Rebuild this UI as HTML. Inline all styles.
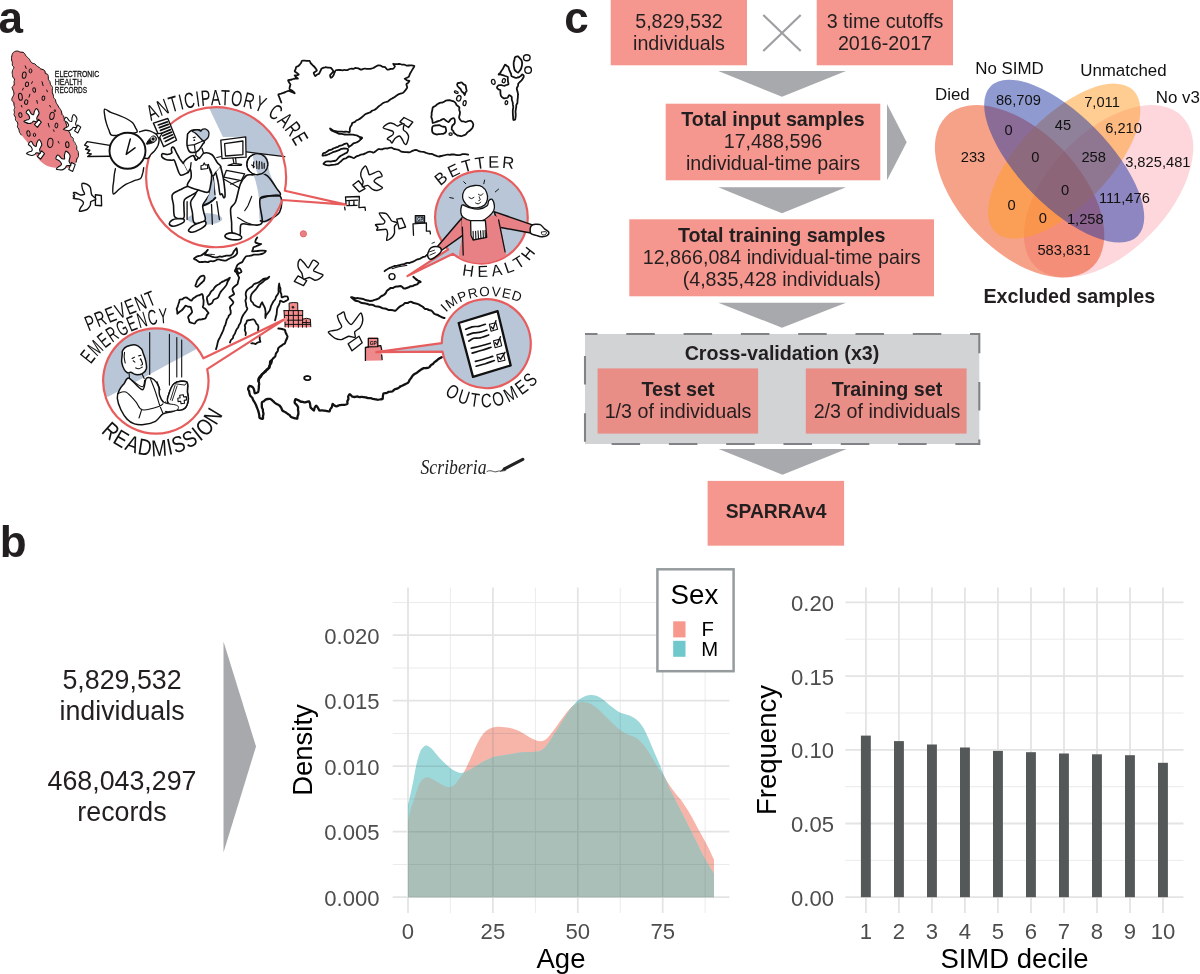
<!DOCTYPE html>
<html lang="en">
<head>
<meta charset="utf-8">
<title>SPARRAv4 overview figure</title>
<style>
html,body{margin:0;padding:0;background:#fff;}
body{width:1200px;height:974px;overflow:hidden;font-family:"Liberation Sans",sans-serif;}
svg{display:block;will-change:transform;}
text{font-family:"Liberation Sans",sans-serif;}
.lbl{font-weight:700;font-size:44px;fill:#231f20;}
.ft{font-size:19.7px;fill:#231f20;text-anchor:middle;}
.fb{font-size:19.7px;font-weight:700;fill:#231f20;text-anchor:middle;}
.vn{font-size:14.7px;fill:#111;text-anchor:middle;}
.vc{font-size:16.9px;fill:#111;}
.tick{font-size:22.1px;fill:#4d4d4d;}
.axt{font-size:27.5px;fill:#000;text-anchor:middle;}
.big{font-size:26.8px;fill:#231f20;text-anchor:middle;}
.hand{font-family:"Liberation Sans",sans-serif;fill:#111;}
</style>
</head>
<body>
<svg width="1200" height="974" viewBox="0 0 1200 974">
<rect x="0" y="0" width="1200" height="974" fill="#ffffff"/>
<!-- ============ panel c : flow chart ============ -->
<g id="flow">
<text class="lbl" x="564.3" y="33.1">c</text>
<rect x="610.7" y="0" width="136.3" height="65.3" fill="#f5978f"/>
<text class="ft" x="679" y="27.9">5,829,532</text>
<text class="ft" x="679" y="49.6">individuals</text>
<path d="M763.3 15 L800.7 51 M800.7 15 L763.3 51" stroke="#9d9fa2" stroke-width="2.2" fill="none"/>
<rect x="816.7" y="0" width="136.3" height="65.3" fill="#f5978f"/>
<text class="ft" x="885" y="27.9">3 time cutoffs</text>
<text class="ft" x="885" y="49.6">2016-2017</text>
<polygon points="718.3,71 846,71 782,96.7" fill="#a7a9ac"/>
<rect x="665.7" y="103.7" width="214.6" height="76.6" fill="#f5978f"/>
<text class="fb" x="773" y="126.3">Total input samples</text>
<text class="ft" x="773" y="147.9">17,488,596</text>
<text class="ft" x="773" y="169.6">individual-time pairs</text>
<polygon points="887,104 887,180.3 906.7,142.3" fill="#a7a9ac"/>
<polygon points="718.3,187.3 846,187.3 782,213.3" fill="#a7a9ac"/>
<rect x="629.3" y="219.3" width="304.7" height="77" fill="#f5978f"/>
<text class="fb" x="781.7" y="242.3">Total training samples</text>
<text class="ft" x="781.7" y="263.9">12,866,084 individual-time pairs</text>
<text class="ft" x="781.7" y="285.6">(4,835,428 individuals)</text>
<polygon points="718.3,302.7 846,302.7 782,327.7" fill="#a7a9ac"/>
<rect x="585" y="334" width="394.3" height="110" fill="#d2d3d5" stroke="#808285" stroke-width="2.1" stroke-dasharray="28.5 28.8" stroke-dashoffset="16"/>
<text class="fb" x="782" y="359.9">Cross-validation (x3)</text>
<rect x="597.6" y="368.4" width="160.5" height="65.2" fill="#e98d87"/>
<text class="fb" x="678" y="395.6">Test set</text>
<text class="ft" x="678" y="417.6">1/3 of individuals</text>
<rect x="805.8" y="368.4" width="160.8" height="65.2" fill="#e98d87"/>
<text class="fb" x="887" y="395.6">Training set</text>
<text class="ft" x="887" y="417.6">2/3 of individuals</text>
<polygon points="718.7,449 846.6,449 782.5,474.8" fill="#a7a9ac"/>
<rect x="707.6" y="480.9" width="136.5" height="64.8" fill="#f5978f"/>
<text class="fb" x="776" y="518.4" style="font-size:19.3px">SPARRAv4</text>
</g>
<!-- ============ panel c : venn diagram ============ -->
<g id="venn">
<ellipse cx="0" cy="0" rx="104" ry="59.4" transform="translate(1108.6 191.3) scale(1 1.018) rotate(-45)" fill="#fbafb9" fill-opacity="0.5"/>
<ellipse cx="0" cy="0" rx="104" ry="59.4" transform="translate(1019.6 191.3) scale(1 1.018) rotate(45)" fill="#ee4614" fill-opacity="0.5"/>
<ellipse cx="0" cy="0" rx="98" ry="44.6" transform="translate(1064.2 161.1) scale(1 1.018) rotate(-45)" fill="#ff9b23" fill-opacity="0.5"/>
<ellipse cx="0" cy="0" rx="104" ry="44.6" transform="translate(1064.2 161.1) scale(1 1.018) rotate(45)" fill="#1f36a4" fill-opacity="0.5"/>
<g class="vn">
<text x="1018.4" y="105">86,709</text>
<text x="1102" y="107">7,011</text>
<text x="1008.6" y="135">0</text>
<text x="1062.9" y="130.3">45</text>
<text x="1123.6" y="133.2">6,210</text>
<text x="973" y="162.2">233</text>
<text x="1035.3" y="162.2">0</text>
<text x="1093.7" y="162.2">258</text>
<text x="1157.8" y="167">3,825,481</text>
<text x="1065" y="195.2">0</text>
<text x="1124.4" y="203">111,476</text>
<text x="1011.5" y="210.2">0</text>
<text x="1042.8" y="222.8">0</text>
<text x="1085.3" y="224.2">1,258</text>
<text x="1064" y="255.2">583,831</text>
</g>
<g class="vc">
<text x="935" y="99.5">Died</text>
<text x="975.3" y="73.6">No SIMD</text>
<text x="1080.2" y="75.9">Unmatched</text>
<text x="1155.7" y="102.6">No v3</text>
</g>
<text x="1069.3" y="303" style="font-size:19.7px;font-weight:700;fill:#231f20;text-anchor:middle">Excluded samples</text>
</g>
<!-- ============ panel b : text + plots ============ -->
<g id="panelb">
<text class="lbl" x="-0.2" y="557">b</text>
<text class="big" x="122" y="689">5,829,532</text>
<text class="big" x="122" y="720">individuals</text>
<text class="big" x="122" y="790">468,043,297</text>
<text class="big" x="122" y="821">records</text>
<polygon points="223.5,641.5 223.5,852.5 256,746.5" fill="#a7a9ac"/>
<g id="dens">
<path d="M392.7 864.5H729.4M392.7 799.0H729.4M392.7 733.5H729.4M392.7 668.0H729.4M392.7 602.5H729.4M450.4 587.6V912.9M535.4 587.6V912.9M620.2 587.6V912.9M705.1 587.6V912.9" stroke="#ebebeb" stroke-width="1" fill="none"/>
<path d="M392.7 897.2H729.4M392.7 831.7H729.4M392.7 766.2H729.4M392.7 700.7H729.4M392.7 635.2H729.4M408.0 587.6V912.9M492.9 587.6V912.9M577.8 587.6V912.9M662.7 587.6V912.9" stroke="#e4e4e4" stroke-width="1.8" fill="none"/>
<clipPath id="clipF"><path d="M408.0 897.2L408.0 821.5C408.5 819.2 410.0 811.6 411.0 808.0C412.0 804.4 412.9 803.3 414.0 800.0C415.1 796.7 416.5 791.2 417.8 788.0C419.0 784.8 420.2 782.2 421.5 780.5C422.8 778.8 424.1 778.3 425.2 777.8C426.4 777.3 427.1 777.2 428.5 777.5C429.9 777.8 431.4 778.6 433.5 779.8C435.6 780.9 438.8 783.1 441.0 784.2C443.2 785.4 445.5 786.3 447.0 786.8C448.5 787.3 448.8 787.3 450.0 787.0C451.2 786.7 453.0 786.3 454.5 785.0C456.0 783.7 457.5 781.0 459.0 779.0C460.5 777.0 462.0 775.5 463.5 773.0C465.0 770.5 466.2 767.8 468.0 764.0C469.8 760.2 472.0 754.8 474.0 750.5C476.0 746.2 478.0 741.8 480.0 738.5C482.0 735.2 483.8 732.8 486.0 731.0C488.2 729.2 490.8 728.2 493.0 727.5C495.2 726.8 496.7 726.7 499.5 726.8C502.3 726.9 506.8 727.3 510.0 728.0C513.2 728.7 516.0 729.6 519.0 731.0C522.0 732.4 525.3 734.8 528.0 736.2C530.7 737.8 533.1 739.2 535.2 740.0C537.3 740.8 539.0 741.3 540.8 741.2C542.5 741.1 544.1 740.7 546.0 739.2C547.9 737.8 550.0 735.0 552.0 732.5C554.0 730.0 556.0 727.0 558.0 724.2C560.0 721.5 562.0 718.6 564.0 716.0C566.0 713.4 568.0 710.5 570.0 708.5C572.0 706.5 574.2 704.8 576.0 703.7C577.8 702.7 579.2 702.5 580.5 702.2C581.8 701.9 582.0 701.7 583.5 701.9C585.0 702.1 587.5 702.4 589.5 703.2C591.5 704.1 593.5 705.5 595.5 707.0C597.5 708.5 599.5 710.4 601.5 712.2C603.5 714.1 605.5 716.2 607.5 718.2C609.5 720.2 611.5 722.4 613.5 724.2C615.5 726.1 617.5 728.0 619.5 729.5C621.5 731.0 623.5 732.5 625.5 733.5C627.5 734.6 629.8 735.2 631.5 736.0C633.2 736.7 634.5 736.8 636.0 737.8C637.5 738.7 639.0 740.0 640.5 741.5C642.0 743.0 643.5 744.8 645.0 746.8C646.5 748.8 648.0 751.1 649.5 753.5C651.0 755.9 652.5 758.5 654.0 761.0C655.5 763.5 657.0 766.2 658.5 768.5C660.0 770.8 661.5 772.2 663.0 774.5C664.5 776.8 666.0 779.6 667.5 782.0C669.0 784.4 670.5 786.6 672.0 788.8C673.5 790.9 675.0 792.9 676.5 794.8C678.0 796.6 678.9 797.0 681.0 800.0C683.1 803.0 686.5 808.0 689.2 812.6C691.9 817.2 694.7 822.5 697.4 827.4C700.1 832.3 702.8 836.9 705.6 842.2C708.4 847.6 712.6 856.6 714.0 859.5L714.0 897.2Z"/></clipPath>
<clipPath id="clipU"><path d="M408.0 897.2L408.0 821.5C408.5 819.2 410.0 811.6 411.0 808.0C412.0 804.4 412.9 803.3 414.0 800.0C415.1 796.7 416.5 791.2 417.8 788.0C419.0 784.8 420.2 782.2 421.5 780.5C422.8 778.8 424.1 778.3 425.2 777.8C426.4 777.3 427.1 777.2 428.5 777.5C429.9 777.8 431.4 778.6 433.5 779.8C435.6 780.9 438.8 783.1 441.0 784.2C443.2 785.4 445.5 786.3 447.0 786.8C448.5 787.3 448.8 787.3 450.0 787.0C451.2 786.7 453.0 786.3 454.5 785.0C456.0 783.7 457.5 781.0 459.0 779.0C460.5 777.0 462.0 775.5 463.5 773.0C465.0 770.5 466.2 767.8 468.0 764.0C469.8 760.2 472.0 754.8 474.0 750.5C476.0 746.2 478.0 741.8 480.0 738.5C482.0 735.2 483.8 732.8 486.0 731.0C488.2 729.2 490.8 728.2 493.0 727.5C495.2 726.8 496.7 726.7 499.5 726.8C502.3 726.9 506.8 727.3 510.0 728.0C513.2 728.7 516.0 729.6 519.0 731.0C522.0 732.4 525.3 734.8 528.0 736.2C530.7 737.8 533.1 739.2 535.2 740.0C537.3 740.8 539.0 741.3 540.8 741.2C542.5 741.1 544.1 740.7 546.0 739.2C547.9 737.8 550.0 735.0 552.0 732.5C554.0 730.0 556.0 727.0 558.0 724.2C560.0 721.5 562.0 718.6 564.0 716.0C566.0 713.4 568.0 710.5 570.0 708.5C572.0 706.5 574.2 704.8 576.0 703.7C577.8 702.7 579.2 702.5 580.5 702.2C581.8 701.9 582.0 701.7 583.5 701.9C585.0 702.1 587.5 702.4 589.5 703.2C591.5 704.1 593.5 705.5 595.5 707.0C597.5 708.5 599.5 710.4 601.5 712.2C603.5 714.1 605.5 716.2 607.5 718.2C609.5 720.2 611.5 722.4 613.5 724.2C615.5 726.1 617.5 728.0 619.5 729.5C621.5 731.0 623.5 732.5 625.5 733.5C627.5 734.6 629.8 735.2 631.5 736.0C633.2 736.7 634.5 736.8 636.0 737.8C637.5 738.7 639.0 740.0 640.5 741.5C642.0 743.0 643.5 744.8 645.0 746.8C646.5 748.8 648.0 751.1 649.5 753.5C651.0 755.9 652.5 758.5 654.0 761.0C655.5 763.5 657.0 766.2 658.5 768.5C660.0 770.8 661.5 772.2 663.0 774.5C664.5 776.8 666.0 779.6 667.5 782.0C669.0 784.4 670.5 786.6 672.0 788.8C673.5 790.9 675.0 792.9 676.5 794.8C678.0 796.6 678.9 797.0 681.0 800.0C683.1 803.0 686.5 808.0 689.2 812.6C691.9 817.2 694.7 822.5 697.4 827.4C700.1 832.3 702.8 836.9 705.6 842.2C708.4 847.6 712.6 856.6 714.0 859.5L714.0 897.2Z"/><path d="M408.0 897.2L408.0 804.5C408.2 803.8 408.4 803.2 409.2 800.0C409.9 796.8 411.3 790.8 412.5 785.0C413.7 779.2 415.0 771.0 416.2 765.5C417.5 760.0 418.8 755.1 420.0 752.0C421.2 748.9 422.7 747.8 423.8 746.8C424.8 745.7 425.2 745.2 426.5 745.5C427.8 745.8 429.6 746.8 431.2 748.2C432.9 749.7 434.6 752.1 436.5 754.2C438.4 756.4 440.2 758.8 442.5 761.0C444.8 763.2 447.8 766.0 450.0 767.8C452.2 769.5 454.0 770.6 456.0 771.5C458.0 772.4 459.8 773.2 462.0 773.0C464.2 772.8 467.0 771.2 469.5 770.0C472.0 768.8 474.5 767.0 477.0 765.5C479.5 764.0 481.8 762.4 484.5 761.0C487.2 759.6 490.0 758.2 493.0 757.2C496.0 756.3 499.2 756.0 502.5 755.5C505.8 754.9 509.8 754.3 513.0 753.8C516.2 753.3 518.3 752.6 522.0 752.3C525.7 751.9 532.0 752.0 535.2 751.7C538.4 751.4 539.0 751.7 541.0 750.5C543.0 749.3 545.2 747.4 547.5 744.5C549.8 741.6 552.5 736.9 555.0 733.0C557.5 729.1 560.0 724.9 562.5 721.0C565.0 717.1 568.0 712.3 570.0 709.5C572.0 706.7 573.0 705.7 574.5 704.0C576.0 702.3 577.2 700.8 579.0 699.5C580.8 698.2 583.0 697.0 585.0 696.2C587.0 695.5 589.0 695.0 591.0 695.0C593.0 695.0 595.0 695.3 597.0 696.0C599.0 696.8 601.0 698.0 603.0 699.5C605.0 701.0 607.0 703.1 609.0 704.8C611.0 706.4 613.1 707.9 615.0 709.2C616.9 710.6 618.5 711.8 620.5 712.7C622.5 713.6 624.9 714.0 627.0 714.8C629.1 715.5 631.2 716.2 633.0 717.2C634.8 718.2 636.0 719.1 637.5 720.5C639.0 721.9 640.5 723.5 642.0 725.8C643.5 728.0 645.0 730.9 646.5 734.0C648.0 737.1 649.5 741.0 651.0 744.5C652.5 748.0 654.0 751.5 655.5 755.0C657.0 758.5 658.7 762.2 660.0 765.5C661.3 768.8 662.2 771.4 663.5 774.5C664.8 777.6 666.2 781.0 667.5 784.0C668.8 787.0 669.5 788.5 671.5 792.5C673.5 796.5 676.6 802.4 679.3 807.7C682.0 813.0 684.8 818.6 687.5 824.1C690.2 829.6 693.0 835.0 695.8 840.5C698.5 846.0 701.0 851.5 704.0 857.0C707.0 862.5 712.3 871.0 714.0 873.8L714.0 897.2Z"/></clipPath>
<path d="M408.0 897.2L408.0 821.5C408.5 819.2 410.0 811.6 411.0 808.0C412.0 804.4 412.9 803.3 414.0 800.0C415.1 796.7 416.5 791.2 417.8 788.0C419.0 784.8 420.2 782.2 421.5 780.5C422.8 778.8 424.1 778.3 425.2 777.8C426.4 777.3 427.1 777.2 428.5 777.5C429.9 777.8 431.4 778.6 433.5 779.8C435.6 780.9 438.8 783.1 441.0 784.2C443.2 785.4 445.5 786.3 447.0 786.8C448.5 787.3 448.8 787.3 450.0 787.0C451.2 786.7 453.0 786.3 454.5 785.0C456.0 783.7 457.5 781.0 459.0 779.0C460.5 777.0 462.0 775.5 463.5 773.0C465.0 770.5 466.2 767.8 468.0 764.0C469.8 760.2 472.0 754.8 474.0 750.5C476.0 746.2 478.0 741.8 480.0 738.5C482.0 735.2 483.8 732.8 486.0 731.0C488.2 729.2 490.8 728.2 493.0 727.5C495.2 726.8 496.7 726.7 499.5 726.8C502.3 726.9 506.8 727.3 510.0 728.0C513.2 728.7 516.0 729.6 519.0 731.0C522.0 732.4 525.3 734.8 528.0 736.2C530.7 737.8 533.1 739.2 535.2 740.0C537.3 740.8 539.0 741.3 540.8 741.2C542.5 741.1 544.1 740.7 546.0 739.2C547.9 737.8 550.0 735.0 552.0 732.5C554.0 730.0 556.0 727.0 558.0 724.2C560.0 721.5 562.0 718.6 564.0 716.0C566.0 713.4 568.0 710.5 570.0 708.5C572.0 706.5 574.2 704.8 576.0 703.7C577.8 702.7 579.2 702.5 580.5 702.2C581.8 701.9 582.0 701.7 583.5 701.9C585.0 702.1 587.5 702.4 589.5 703.2C591.5 704.1 593.5 705.5 595.5 707.0C597.5 708.5 599.5 710.4 601.5 712.2C603.5 714.1 605.5 716.2 607.5 718.2C609.5 720.2 611.5 722.4 613.5 724.2C615.5 726.1 617.5 728.0 619.5 729.5C621.5 731.0 623.5 732.5 625.5 733.5C627.5 734.6 629.8 735.2 631.5 736.0C633.2 736.7 634.5 736.8 636.0 737.8C637.5 738.7 639.0 740.0 640.5 741.5C642.0 743.0 643.5 744.8 645.0 746.8C646.5 748.8 648.0 751.1 649.5 753.5C651.0 755.9 652.5 758.5 654.0 761.0C655.5 763.5 657.0 766.2 658.5 768.5C660.0 770.8 661.5 772.2 663.0 774.5C664.5 776.8 666.0 779.6 667.5 782.0C669.0 784.4 670.5 786.6 672.0 788.8C673.5 790.9 675.0 792.9 676.5 794.8C678.0 796.6 678.9 797.0 681.0 800.0C683.1 803.0 686.5 808.0 689.2 812.6C691.9 817.2 694.7 822.5 697.4 827.4C700.1 832.3 702.8 836.9 705.6 842.2C708.4 847.6 712.6 856.6 714.0 859.5L714.0 897.2Z" fill="#f7b5aa"/>
<path d="M408.0 897.2L408.0 804.5C408.2 803.8 408.4 803.2 409.2 800.0C409.9 796.8 411.3 790.8 412.5 785.0C413.7 779.2 415.0 771.0 416.2 765.5C417.5 760.0 418.8 755.1 420.0 752.0C421.2 748.9 422.7 747.8 423.8 746.8C424.8 745.7 425.2 745.2 426.5 745.5C427.8 745.8 429.6 746.8 431.2 748.2C432.9 749.7 434.6 752.1 436.5 754.2C438.4 756.4 440.2 758.8 442.5 761.0C444.8 763.2 447.8 766.0 450.0 767.8C452.2 769.5 454.0 770.6 456.0 771.5C458.0 772.4 459.8 773.2 462.0 773.0C464.2 772.8 467.0 771.2 469.5 770.0C472.0 768.8 474.5 767.0 477.0 765.5C479.5 764.0 481.8 762.4 484.5 761.0C487.2 759.6 490.0 758.2 493.0 757.2C496.0 756.3 499.2 756.0 502.5 755.5C505.8 754.9 509.8 754.3 513.0 753.8C516.2 753.3 518.3 752.6 522.0 752.3C525.7 751.9 532.0 752.0 535.2 751.7C538.4 751.4 539.0 751.7 541.0 750.5C543.0 749.3 545.2 747.4 547.5 744.5C549.8 741.6 552.5 736.9 555.0 733.0C557.5 729.1 560.0 724.9 562.5 721.0C565.0 717.1 568.0 712.3 570.0 709.5C572.0 706.7 573.0 705.7 574.5 704.0C576.0 702.3 577.2 700.8 579.0 699.5C580.8 698.2 583.0 697.0 585.0 696.2C587.0 695.5 589.0 695.0 591.0 695.0C593.0 695.0 595.0 695.3 597.0 696.0C599.0 696.8 601.0 698.0 603.0 699.5C605.0 701.0 607.0 703.1 609.0 704.8C611.0 706.4 613.1 707.9 615.0 709.2C616.9 710.6 618.5 711.8 620.5 712.7C622.5 713.6 624.9 714.0 627.0 714.8C629.1 715.5 631.2 716.2 633.0 717.2C634.8 718.2 636.0 719.1 637.5 720.5C639.0 721.9 640.5 723.5 642.0 725.8C643.5 728.0 645.0 730.9 646.5 734.0C648.0 737.1 649.5 741.0 651.0 744.5C652.5 748.0 654.0 751.5 655.5 755.0C657.0 758.5 658.7 762.2 660.0 765.5C661.3 768.8 662.2 771.4 663.5 774.5C664.8 777.6 666.2 781.0 667.5 784.0C668.8 787.0 669.5 788.5 671.5 792.5C673.5 796.5 676.6 802.4 679.3 807.7C682.0 813.0 684.8 818.6 687.5 824.1C690.2 829.6 693.0 835.0 695.8 840.5C698.5 846.0 701.0 851.5 704.0 857.0C707.0 862.5 712.3 871.0 714.0 873.8L714.0 897.2Z" fill="#9dd8db"/>
<path d="M408.0 897.2L408.0 804.5C408.2 803.8 408.4 803.2 409.2 800.0C409.9 796.8 411.3 790.8 412.5 785.0C413.7 779.2 415.0 771.0 416.2 765.5C417.5 760.0 418.8 755.1 420.0 752.0C421.2 748.9 422.7 747.8 423.8 746.8C424.8 745.7 425.2 745.2 426.5 745.5C427.8 745.8 429.6 746.8 431.2 748.2C432.9 749.7 434.6 752.1 436.5 754.2C438.4 756.4 440.2 758.8 442.5 761.0C444.8 763.2 447.8 766.0 450.0 767.8C452.2 769.5 454.0 770.6 456.0 771.5C458.0 772.4 459.8 773.2 462.0 773.0C464.2 772.8 467.0 771.2 469.5 770.0C472.0 768.8 474.5 767.0 477.0 765.5C479.5 764.0 481.8 762.4 484.5 761.0C487.2 759.6 490.0 758.2 493.0 757.2C496.0 756.3 499.2 756.0 502.5 755.5C505.8 754.9 509.8 754.3 513.0 753.8C516.2 753.3 518.3 752.6 522.0 752.3C525.7 751.9 532.0 752.0 535.2 751.7C538.4 751.4 539.0 751.7 541.0 750.5C543.0 749.3 545.2 747.4 547.5 744.5C549.8 741.6 552.5 736.9 555.0 733.0C557.5 729.1 560.0 724.9 562.5 721.0C565.0 717.1 568.0 712.3 570.0 709.5C572.0 706.7 573.0 705.7 574.5 704.0C576.0 702.3 577.2 700.8 579.0 699.5C580.8 698.2 583.0 697.0 585.0 696.2C587.0 695.5 589.0 695.0 591.0 695.0C593.0 695.0 595.0 695.3 597.0 696.0C599.0 696.8 601.0 698.0 603.0 699.5C605.0 701.0 607.0 703.1 609.0 704.8C611.0 706.4 613.1 707.9 615.0 709.2C616.9 710.6 618.5 711.8 620.5 712.7C622.5 713.6 624.9 714.0 627.0 714.8C629.1 715.5 631.2 716.2 633.0 717.2C634.8 718.2 636.0 719.1 637.5 720.5C639.0 721.9 640.5 723.5 642.0 725.8C643.5 728.0 645.0 730.9 646.5 734.0C648.0 737.1 649.5 741.0 651.0 744.5C652.5 748.0 654.0 751.5 655.5 755.0C657.0 758.5 658.7 762.2 660.0 765.5C661.3 768.8 662.2 771.4 663.5 774.5C664.8 777.6 666.2 781.0 667.5 784.0C668.8 787.0 669.5 788.5 671.5 792.5C673.5 796.5 676.6 802.4 679.3 807.7C682.0 813.0 684.8 818.6 687.5 824.1C690.2 829.6 693.0 835.0 695.8 840.5C698.5 846.0 701.0 851.5 704.0 857.0C707.0 862.5 712.3 871.0 714.0 873.8L714.0 897.2Z" fill="#a9bfb7" clip-path="url(#clipF)"/>
<g clip-path="url(#clipU)" opacity="0.22"><path d="M392.7 864.5H729.4M392.7 799.0H729.4M392.7 733.5H729.4M392.7 668.0H729.4M392.7 602.5H729.4M450.4 587.6V912.9M535.4 587.6V912.9M620.2 587.6V912.9M705.1 587.6V912.9" stroke="#6b7a78" stroke-width="0.8" fill="none"/><path d="M392.7 897.2H729.4M392.7 831.7H729.4M392.7 766.2H729.4M392.7 700.7H729.4M392.7 635.2H729.4M408.0 587.6V912.9M492.9 587.6V912.9M577.8 587.6V912.9M662.7 587.6V912.9" stroke="#6b7a78" stroke-width="1.5" fill="none"/></g>
<text class="tick" text-anchor="end" x="379.5" y="905.6">0.000</text>
<text class="tick" text-anchor="end" x="379.5" y="840.1">0.005</text>
<text class="tick" text-anchor="end" x="379.5" y="774.6">0.010</text>
<text class="tick" text-anchor="end" x="379.5" y="709.1">0.015</text>
<text class="tick" text-anchor="end" x="379.5" y="643.6">0.020</text>
<text class="tick" text-anchor="middle" x="408.0" y="938.6">0</text>
<text class="tick" text-anchor="middle" x="492.9" y="938.6">25</text>
<text class="tick" text-anchor="middle" x="577.8" y="938.6">50</text>
<text class="tick" text-anchor="middle" x="662.7" y="938.6">75</text>
<text class="axt" x="561" y="968.4">Age</text>
<text class="axt" transform="translate(311.5 750) rotate(-90)">Density</text>
<rect x="657.4" y="569.3" width="76.2" height="101.9" fill="#fff" stroke="#969c9e" stroke-width="2.5"/>
<text x="670.6" y="603.8" style="font-size:27.7px;fill:#000">Sex</text>
<rect x="673.2" y="621.3" width="12.3" height="16.1" fill="#f6988c"/>
<rect x="673.2" y="640.8" width="12.3" height="16" fill="#6fc8cc"/>
<text x="701.4" y="636.4" style="font-size:20.3px;fill:#000">F</text>
<text x="701.3" y="655.6" style="font-size:20.3px;fill:#000">M</text>
</g>
<g id="bars">
<path d="M845.4 860.4H1183.5M845.4 786.7H1183.5M845.4 713.0H1183.5M845.4 639.2H1183.5" stroke="#ebebeb" stroke-width="1" fill="none"/>
<path d="M845.4 897.2H1183.5M845.4 823.5H1183.5M845.4 749.8H1183.5M845.4 676.1H1183.5M845.4 602.4H1183.5M865.9 587.6V912.9M898.9 587.6V912.9M931.9 587.6V912.9M964.9 587.6V912.9M997.9 587.6V912.9M1031.0 587.6V912.9M1064.0 587.6V912.9M1097.0 587.6V912.9M1130.0 587.6V912.9M1163.0 587.6V912.9" stroke="#e4e4e4" stroke-width="1.8" fill="none"/>
<rect x="860.9" y="735.6" width="9.9" height="161.6" fill="#555858"/>
<rect x="894.0" y="741.1" width="9.9" height="156.1" fill="#555858"/>
<rect x="927.0" y="744.5" width="9.9" height="152.7" fill="#555858"/>
<rect x="960.0" y="747.5" width="9.9" height="149.7" fill="#555858"/>
<rect x="993.0" y="750.9" width="9.9" height="146.3" fill="#555858"/>
<rect x="1026.0" y="752.2" width="9.9" height="145.0" fill="#555858"/>
<rect x="1059.0" y="753.5" width="9.9" height="143.7" fill="#555858"/>
<rect x="1092.0" y="754.3" width="9.9" height="142.9" fill="#555858"/>
<rect x="1125.0" y="755.2" width="9.9" height="142.0" fill="#555858"/>
<rect x="1158.0" y="762.8" width="9.9" height="134.4" fill="#555858"/>
<text class="tick" text-anchor="end" x="834" y="905.6">0.00</text>
<text class="tick" text-anchor="end" x="834" y="831.9">0.05</text>
<text class="tick" text-anchor="end" x="834" y="758.2">0.10</text>
<text class="tick" text-anchor="end" x="834" y="684.5">0.15</text>
<text class="tick" text-anchor="end" x="834" y="610.8">0.20</text>
<text class="tick" text-anchor="middle" x="865.9" y="938.6">1</text>
<text class="tick" text-anchor="middle" x="898.9" y="938.6">2</text>
<text class="tick" text-anchor="middle" x="931.9" y="938.6">3</text>
<text class="tick" text-anchor="middle" x="964.9" y="938.6">4</text>
<text class="tick" text-anchor="middle" x="997.9" y="938.6">5</text>
<text class="tick" text-anchor="middle" x="1031.0" y="938.6">6</text>
<text class="tick" text-anchor="middle" x="1064.0" y="938.6">7</text>
<text class="tick" text-anchor="middle" x="1097.0" y="938.6">8</text>
<text class="tick" text-anchor="middle" x="1130.0" y="938.6">9</text>
<text class="tick" text-anchor="middle" x="1163.0" y="938.6">10</text>
<text class="axt" x="1014.5" y="968.4">SIMD decile</text>
<text class="axt" transform="translate(776.3 750) rotate(-90)">Frequency</text>
</g>
</g>
<!-- ============ panel a : illustration ============ -->
<g id="illus">
<text class="lbl" x="-1.6" y="33.1">a</text>
<g id="blob">
<path d="M15.8 51.5C17.6 51.1 21.1 51.3 23 52.2C24.9 53.2 26 55.7 27.3 57.3C28.6 58.8 29.4 60.1 30.9 61.6C32.5 63 34.6 64.6 36.7 65.9C38.7 67.2 41.3 68 43.1 69.5C44.9 70.9 46.4 72.5 47.4 74.5C48.5 76.5 48.8 79.1 49.6 81.7C50.4 84.3 51.8 87.7 52.5 90.3C53.2 93 53.1 95.1 53.9 97.5C54.8 99.9 56.2 102.3 57.5 104.7C58.8 107.1 60.5 109.3 61.8 111.9C63.1 114.5 64.2 117.2 65.4 120.5C66.6 123.9 67.7 128.7 69 132C70.3 135.4 72 137.8 73.3 140.6C74.6 143.5 76.1 146.6 76.9 149.3C77.8 151.9 78.5 154.3 78.4 156.5C78.2 158.6 77.3 160.5 76.2 162.2C75.1 163.9 73.8 165.5 71.9 166.5C70 167.5 67.1 168 64.7 168.3C62.3 168.5 60.1 168.3 57.5 168C54.9 167.7 51.5 167.5 48.9 166.5C46.2 165.6 43.7 163.9 41.7 162.2C39.7 160.5 38.5 159.1 36.7 156.5C34.9 153.8 32.7 149 30.9 146.4C29.1 143.8 27.4 142.6 25.9 140.6C24.3 138.7 22.8 136.8 21.6 134.9C20.4 133 19.4 131.3 18.7 129.1C18 127 18 124.4 17.3 122C16.5 119.6 14.7 117.2 14.4 114.8C14 112.4 15.5 110 15.1 107.6C14.7 105.2 12.5 102.8 12.2 100.4C12 98 13.7 95.4 13.7 93.2C13.7 91 12.1 89.4 12.2 87.4C12.3 85.5 14.3 83.9 14.4 81.7C14.5 79.5 12.8 76.9 12.7 74.5C12.5 72.1 13.9 69.7 13.7 67.3C13.5 64.9 11.7 62.3 11.5 60.1C11.3 58 11.5 55.8 12.2 54.4C12.9 52.9 14 51.9 15.8 51.5Z" fill="#e88186"/>
<path d="M21.4 135C21.2 134.6 19.9 133.2 19.5 132.3C19.1 131.5 19.1 129.9 18.8 129.1C18.5 128.3 17.5 127.6 17.4 126.9C17.2 126.2 17.8 125 17.8 124.3C17.8 123.6 17.5 122.6 17.2 122C16.8 121.4 15.7 120.6 15.5 119.9C15.2 119.2 15.6 117.9 15.4 117.2C15.1 116.4 14.1 115.4 14 114.7C13.9 114 14.5 113 14.5 112.4C14.5 111.7 14 110.6 14 109.9C14 109.2 14.8 108.4 14.8 107.7C14.8 107 14.1 106 14 105.2C13.9 104.5 14.1 103.2 13.8 102.5C13.5 101.8 12.2 101 11.9 100.3C11.7 99.7 11.9 98.6 12.2 97.9C12.4 97.2 13.2 96.3 13.4 95.6C13.7 95 14.1 93.9 14 93.1C14 92.3 13.4 91.1 13.1 90.3C12.8 89.5 12 88.2 12.1 87.4C12.3 86.7 13.9 85.7 14.2 84.9C14.5 84.1 14 82.6 14 81.8C14.1 81 14.7 79.8 14.5 79.1C14.3 78.5 13.1 77.7 12.8 77C12.5 76.3 12.5 75.2 12.4 74.5C12.3 73.8 12.1 72.7 12.2 72C12.3 71.3 12.7 70.3 12.9 69.7C13.2 69 14 67.9 13.9 67.2C13.8 66.6 12.5 65.8 12.3 65.1C12.1 64.4 12.5 63.2 12.4 62.5C12.3 61.8 11.7 60.9 11.6 60.1C11.5 59.4 11.5 58 11.6 57.2C11.7 56.4 12 55.1 12.2 54.4C12.5 53.7 13 52.7 13.5 52.3C14 51.8 15.2 51.3 15.9 51.2C16.5 51 17.6 51 18.3 51.2C18.9 51.3 19.9 52.2 20.6 52.3C21.3 52.5 22.5 52 23 52.2C23.6 52.4 24.3 53.2 24.7 53.7C25.1 54.2 25.4 55.2 25.8 55.7C26.1 56.2 26.8 56.7 27.3 57.2C27.9 57.7 28.9 58.5 29.4 59.2C29.9 59.8 30.3 61.2 30.8 61.8C31.2 62.4 32 63 32.6 63.3C33.2 63.6 34.5 63.7 35.1 64C35.6 64.4 36.1 65.5 36.6 65.9C37.2 66.4 38.2 66.7 38.8 67.1C39.4 67.6 40 68.6 40.6 68.9C41.2 69.3 42.4 69.3 43 69.6C43.6 69.9 44.6 70.3 44.9 70.9C45.2 71.4 44.9 72.9 45.3 73.5C45.7 74 47.3 73.9 47.7 74.4C48.2 74.9 48.2 76.1 48.3 76.9C48.4 77.6 48.2 78.8 48.4 79.4C48.6 80.1 49.6 80.9 49.9 81.6C50.2 82.3 50.2 83.8 50.6 84.6C50.9 85.4 52.1 86.3 52.4 87.2C52.6 88 52.3 89.5 52.3 90.3C52.4 91.2 52.3 92.1 52.4 92.8C52.6 93.5 53.1 94.5 53.3 95.1C53.5 95.8 53.3 97 53.6 97.6C54 98.3 55.1 99.1 55.4 99.7C55.8 100.4 55.7 101.8 56 102.5C56.3 103.2 57 104.1 57.4 104.7C57.9 105.4 58.4 106.5 58.8 107.2C59.2 107.9 60.1 108.8 60.5 109.4C60.9 110.1 61.4 111.3 61.6 112C61.8 112.7 61.6 113.8 61.9 114.4C62.2 115 63.3 115.6 63.7 116.2C64 116.8 63.9 117.9 64.2 118.5C64.5 119.1 65.5 119.8 65.8 120.4C66 121 65.6 122.3 65.8 122.9C65.9 123.6 66.5 124.5 66.6 125.2C66.7 125.9 66.5 127 66.6 127.7C66.8 128.4 67.3 129.3 67.7 129.9C68 130.5 68.8 131.3 69.2 131.9C69.5 132.5 70.1 133.4 70.3 134.1C70.5 134.7 70.5 135.9 70.9 136.5C71.3 137.1 72.7 137.5 73.1 138.1C73.5 138.7 73.1 140 73.4 140.6C73.6 141.3 74.5 142 74.8 142.5C75.2 143.1 75.5 144.1 75.8 144.7C76.1 145.3 76.7 146.1 76.8 146.8C77 147.4 76.5 148.6 76.7 149.3C76.9 150 77.9 150.9 78.1 151.5C78.4 152.2 78.3 153.3 78.4 154C78.4 154.7 78.7 155.8 78.4 156.5C78.2 157.2 76.9 158.3 76.6 159.1C76.3 159.9 76.3 161.8 76.2 162.2" fill="none" stroke="#111111" stroke-width="1" stroke-linejoin="round" stroke-linecap="round"/>
<ellipse cx="24.2" cy="75.2" rx="1.9" ry="3.2" fill="none" transform="rotate(10 24.2 75.2)" stroke="#111111" stroke-width="1.0"/>
<ellipse cx="30.5" cy="70.9" rx="1.4" ry="2" fill="none" stroke="#111111" stroke-width="1.0"/>
<ellipse cx="27" cy="84.3" rx="1.6" ry="2.3" fill="none" transform="rotate(10 27 84.3)" stroke="#111111" stroke-width="1.0"/>
<ellipse cx="34.2" cy="90" rx="1.4" ry="2.2" fill="none" transform="rotate(-10 34.2 90)" stroke="#111111" stroke-width="1.0"/>
<ellipse cx="20.4" cy="96.8" rx="1.9" ry="3.5" fill="none" transform="rotate(-8 20.4 96.8)" stroke="#111111" stroke-width="1.0"/>
<ellipse cx="26.2" cy="102.1" rx="1.6" ry="2.3" fill="none" transform="rotate(15 26.2 102.1)" stroke="#111111" stroke-width="1.0"/>
<ellipse cx="43.4" cy="98.2" rx="1.4" ry="2.2" fill="none" transform="rotate(10 43.4 98.2)" stroke="#111111" stroke-width="1.0"/>
<ellipse cx="20.4" cy="115.1" rx="1.6" ry="2.3" fill="none" transform="rotate(-10 20.4 115.1)" stroke="#111111" stroke-width="1.0"/>
<ellipse cx="52" cy="115.9" rx="2.2" ry="3.7" fill="none" transform="rotate(10 52 115.9)" stroke="#111111" stroke-width="1.0"/>
<ellipse cx="56.4" cy="125.5" rx="1.4" ry="2.4" fill="none" transform="rotate(10 56.4 125.5)" stroke="#111111" stroke-width="1.0"/>
<ellipse cx="28.5" cy="133.5" rx="1.6" ry="2.7" fill="none" transform="rotate(-10 28.5 133.5)" stroke="#111111" stroke-width="1.0"/>
<ellipse cx="34.5" cy="134.9" rx="1.2" ry="1.6" fill="none" stroke="#111111" stroke-width="1.0"/>
<ellipse cx="50.3" cy="142.8" rx="2.7" ry="4.6" fill="none" transform="rotate(5 50.3 142.8)" stroke="#111111" stroke-width="1.0"/>
<ellipse cx="67.3" cy="144.7" rx="1.7" ry="2.9" fill="none" transform="rotate(-5 67.3 144.7)" stroke="#111111" stroke-width="1.0"/>
<ellipse cx="54.9" cy="110.7" rx="0.7" ry="1" fill="none" stroke="#111111" stroke-width="1.0"/>
<path d="M25.2 65.9L26.2 68.5M42 81.7L43.1 85.7M46.7 90L47.4 91.8M23.3 88.2L22.6 90M29.9 94.3L29 97.2M36.8 100.4L37.4 103.3M21.3 105.4L21.9 107M49.7 105.4L50.6 107M48.2 123.4L49.2 127M53.5 129.9L54.1 131.4M58.2 141.4L59 143.2M32.4 81.7L31.6 83.4" fill="none" stroke="#111111" stroke-width="1" stroke-linejoin="round" stroke-linecap="round"/>
</g>
<g id="coast">
<path d="M281.3 102.5C281.2 102.2 280.5 100.2 280.2 99.6C280 98.9 279.3 97.2 279.1 96.7C278.8 96.1 278 94.7 278.3 94.4C278.5 94 280.5 93.9 281.2 93.7C281.8 93.5 283.4 92.9 284 92.7C284.6 92.5 285.8 91.7 286.4 91.5C286.9 91.3 288.3 90.8 288.9 90.9C289.5 90.9 291.2 91.8 291.8 92C292.5 92.3 294.7 93.4 294.7 93.3C294.8 93.1 293 91.4 292.5 91C291.9 90.5 289.9 89.7 289.6 89.3C289.3 88.8 289.7 87.3 289.8 86.8C289.9 86.2 290.5 84.9 290.4 84.4C290.4 83.9 289.3 82.9 289.1 82.4C288.8 82 287.9 80.5 288.1 80.2C288.2 80 289.7 80 290.1 79.9C290.6 79.8 291.6 79.5 292.2 79.3C292.7 79.2 294.3 78.6 295 78.5C295.6 78.4 297.8 78.8 297.9 78.6C298 78.5 296.6 77.4 296.2 77.1C295.8 76.7 294.6 75.5 294.6 75.3C294.7 75.2 296.3 75.4 296.8 75.3C297.2 75.2 298.8 74.7 298.8 74.4C298.8 74.2 297.2 73.2 296.7 72.8C296.2 72.5 294.8 71.6 294.7 71.2C294.6 70.8 295.5 69.7 295.6 69.2C295.8 68.7 295.9 67.3 296.2 67C296.5 66.6 297.8 66.4 298.2 66.2C298.6 65.9 299.3 65.1 299.7 64.7C300 64.3 300.9 63.2 301.1 62.8C301.4 62.3 301.6 60.9 302 60.7C302.4 60.4 304 60.6 304.5 60.6C305.1 60.6 306.4 60.7 307 60.8C307.5 60.8 309.2 60.7 309.6 60.9C310 61.2 310.3 62.5 310.5 62.9C310.8 63.3 311.6 64.1 312 64.5C312.4 65 314.1 66.5 314.5 67C314.9 67.4 315.5 68.2 315.8 68.6C316.1 69 317 70.1 316.9 70.5C316.8 70.8 315.6 71.5 315.3 71.7C314.9 72 313.7 72.3 313.7 72.8C313.7 73.2 314.7 75.8 315.1 76C315.4 76.2 316.6 74.9 317 74.6C317.5 74.3 318.8 74 319.1 73.6C319.5 73.2 320.1 71.7 320.4 71.1C320.7 70.6 321.1 69 321.7 68.6C322.2 68.1 324.3 67.4 325 67.3C325.7 67.1 327.2 67.6 327.9 67.6C328.5 67.7 330.4 67.6 330.9 67.8C331.4 68 331.9 69 332.2 69.4C332.5 69.8 333.3 70.8 333.3 71.2C333.2 71.7 332.1 72.9 331.7 73.3C331.3 73.8 330.2 74.8 330.1 75.3C330 75.8 330.5 77.9 330.9 77.9C331.2 77.9 333 76 333.4 75.4C333.8 74.8 334.2 73.4 334.4 72.8C334.7 72.3 335.3 70.7 335.7 70.4C336.1 70.1 337.4 70 337.9 70C338.4 69.9 339.6 70 340.1 70C340.6 70 341.8 70.3 342.3 70.3C342.7 70.3 343.9 69.9 344.4 69.9C344.9 69.9 346.2 70.2 346.7 70.2C347.2 70.1 348.3 69.6 348.8 69.4C349.3 69.3 350.4 68.6 350.9 68.6C351.4 68.5 352.8 69 353.3 68.9C353.8 68.8 354.8 68 355.4 67.9C356 67.9 357.7 68.2 358.4 68.4C359 68.6 360.5 69.6 361.2 69.6C361.8 69.6 363.3 68.8 364 68.7C364.6 68.6 366.3 68.7 366.9 68.8C367.5 68.8 368.7 69 369.2 68.9C369.7 68.9 370.9 68.7 371.3 68.6C371.8 68.5 373 68.2 373.5 68C374 67.8 375.3 66.8 375.8 66.5C376.4 66.2 377.9 65.5 378.4 65.4C379 65.3 380.2 65.5 380.7 65.7C381.2 65.8 382.2 66.7 382.7 66.8C383.2 67 384.4 66.8 385 67.1C385.5 67.4 386.9 69.5 387.5 69.7C388.1 69.9 389.7 69.1 390.3 69C390.9 68.9 392.6 69 393.1 68.7C393.6 68.4 394.9 66.7 394.9 66.2C394.9 65.7 393.1 64.2 393.2 64C393.2 63.8 394.9 64.2 395.4 64.2C395.9 64.2 397.1 64.1 397.6 64.1C398.1 64.1 399.3 63.9 399.7 63.9C400.2 64 401.4 64.5 401.9 64.6C402.4 64.7 403.7 64.6 404.2 64.6C404.7 64.7 405.8 65.4 406.3 65.5C406.9 65.6 408.4 65.5 409 65.5C409.6 65.5 411 65.3 411.6 65.3C412.2 65.4 414.2 65.7 414.4 66C414.5 66.4 413.3 68.1 412.9 68.7C412.6 69.3 411.7 70.7 411.4 71.2C411 71.8 410.1 73.4 409.9 74C409.6 74.6 409.1 76.4 408.7 76.8C408.4 77.2 407.2 77.6 406.8 77.8C406.3 78 404.6 78.5 404.6 78.8C404.6 79 406.4 80 406.9 80.3C407.5 80.5 409.4 80.7 409.5 80.9C409.6 81.2 408.4 82.4 408.1 82.8C407.7 83.2 406.5 83.8 406.4 84.3C406.3 84.9 407.4 87 407.2 87.7C407.1 88.4 405.8 89.7 405.3 90.3C404.9 90.8 403.6 92.3 403.1 92.7C402.6 93 401.3 93.4 400.8 93.5C400.3 93.7 399 94.2 398.5 94.4C398 94.6 396.9 95.4 396.4 95.7C395.9 96 394.8 96.9 394.3 97.2C393.8 97.5 392.5 98.2 392 98.5C391.5 98.7 390.3 99.5 389.9 99.8C389.4 100.2 388.4 101.2 387.9 101.4C387.4 101.7 386 101.8 385.5 102C384.9 102.2 383.7 102.8 383.2 103.1C382.7 103.4 381.5 104.3 381 104.7C380.5 105 379.3 105.9 378.8 106.3C378.3 106.7 377.2 107.8 376.8 108.2C376.3 108.6 375.3 109.5 374.7 109.8C374.2 110.1 372.7 110.4 372.2 110.7C371.7 110.9 370.7 112.1 370.2 112.3C369.7 112.6 368.4 112.9 367.9 113.1C367.4 113.3 366.1 113.8 365.6 114C365.1 114.3 364.1 115.2 363.7 115.6C363.2 116 361.8 117.3 361.2 117.7C360.7 118.1 359.2 119.2 358.6 119.5C358.1 119.8 356.9 120.3 356.4 120.6C355.9 120.9 354.9 121.9 354.5 122.2C354 122.4 352.6 122.7 352.3 123C352 123.3 351.8 124.7 351.6 125.1C351.4 125.6 350.5 126.5 350.3 127C350.1 127.5 349.8 128.9 349.8 129.5C349.7 130 350 131.9 349.7 132.1C349.3 132.4 347.4 131.7 346.8 131.7C346.2 131.6 344.6 131.8 343.9 131.8C343.3 131.8 341.8 131.6 341.2 131.6C340.6 131.5 339 131.6 338.4 131.6C337.8 131.5 336.3 131.3 335.7 131.1C335.1 131 333.3 130.6 332.7 130.3C332.1 130 330.2 128.5 330.1 128.5C329.9 128.5 331 130 331.3 130.3C331.7 130.6 332.7 131 333.2 131.2C333.7 131.5 335.5 132.1 336.1 132.4C336.7 132.7 338.3 133.6 339 133.8C339.6 134 341.1 133.8 341.7 133.8C342.3 133.9 343.8 134.5 344.4 134.5C345 134.6 346.6 134.6 347.2 134.6C347.8 134.6 349.4 134.4 350 134.4C350.6 134.5 352.1 134.7 352.7 134.7C353.3 134.8 354.9 135.1 355.4 135.2C356 135.3 357.2 135.6 357.7 135.8C358.2 136 359.3 136.8 359.8 137C360.2 137.2 362.1 137.4 362.1 137.8C362 138.2 360.1 140.1 359.5 140.6C359 141.1 357.5 142 356.8 142.3C356.2 142.6 354.3 143 353.7 143.3C353.1 143.7 351.9 144.9 351.4 145.2C350.9 145.6 349.1 146.6 348.8 146.8" fill="none" stroke="#111111" stroke-width="1.8" stroke-linejoin="round" stroke-linecap="round"/>
<path d="M360 137.7C360.3 137.5 362.2 137.9 362.3 138.2C362.4 138.6 361.1 140 360.7 139.9C360.3 139.8 359.7 138 360 137.7Z" fill="#111111" stroke="#111111" stroke-width="1" stroke-linejoin="round" stroke-linecap="round"/>
<path d="M348.8 146.8C348.6 146.4 347.7 143.8 347.2 143.5C346.7 143.1 345.2 143.7 344.6 143.9C344.1 144.1 342.8 145 342.3 145.2C341.8 145.3 340.4 145.4 339.9 145.6C339.4 145.7 338.4 146.5 337.9 146.8C337.4 147 336.2 147.4 335.7 147.6C335.2 147.8 334 148.2 333.5 148.4C333 148.6 332 149.5 331.5 149.7C331 149.9 329.6 149.9 329.1 150.1C328.7 150.3 327.8 151.1 327.4 151.4C327 151.7 326 152.5 325.5 152.7C325.1 152.9 323.6 153 323.3 153.3C322.9 153.6 322.4 155.4 322.5 155.7C322.7 155.9 324.1 155.4 324.6 155.4C325.1 155.3 326.2 155.2 326.7 155.1C327.3 154.9 328.9 154.1 329.6 153.8C330.2 153.5 331.8 152.7 332.4 152.5C333 152.2 334.1 151.9 334.6 151.7C335.1 151.5 336.3 151.1 336.8 150.9C337.3 150.8 338.5 150.4 339 150.2C339.5 149.9 340.8 149 341.3 148.9C341.9 148.7 343.4 148.5 343.9 148.4C344.4 148.4 345.6 148.5 346 148.6C346.5 148.7 348 148.8 348.1 149.3C348.2 149.7 347.5 151.9 347.2 152.4C346.8 152.9 345.3 153.5 344.7 153.7C344.2 154 342.7 154.7 342.3 155C341.8 155.2 340.9 155.7 340.5 156C340.1 156.3 339.2 157 338.9 157.3C338.5 157.7 337.7 158.8 337.4 159.1C337 159.5 336.2 160.5 335.7 160.7C335.2 160.9 333.8 161 333.2 161.1C332.7 161.2 331.3 161.5 330.8 161.5C330.2 161.6 328.9 161.4 328.3 161.4C327.8 161.4 326.4 161.3 325.9 161.6C325.3 161.9 323.3 163.6 323.4 164C323.5 164.4 326 165 326.7 165.2C327.4 165.3 328.9 165.5 329.6 165.4C330.2 165.4 331.9 165 332.4 164.9C333 164.8 334.2 164.7 334.7 164.7C335.2 164.6 336.4 164.3 336.9 164.2C337.4 164 338.5 163.5 338.9 163.1C339.4 162.8 340.6 161.6 341.1 161.2C341.6 160.8 342.6 159.6 343.2 159.2C343.7 158.9 345.5 158.5 346.1 158.2C346.7 157.9 348.3 156.6 348.9 156.5C349.5 156.4 350.9 156.9 351.4 157.1C352 157.3 353.2 158.3 353.8 158.2C354.3 158.2 355.5 156.9 356 156.7C356.6 156.4 358.1 155.9 358.7 155.7C359.2 155.5 360.2 154.7 360.7 154.6C361.2 154.4 362.6 154.4 363.1 154.3C363.6 154.2 364.7 153.7 365.3 153.4C365.9 153.2 367.9 152 368.5 151.9C369.2 151.7 370.5 151.7 371.1 151.8C371.6 151.8 373 152.7 373.5 152.6C374.1 152.5 375.5 151.4 376 151C376.6 150.6 377.9 149.3 378.4 149.1C378.9 148.9 380.2 149.3 380.6 149.3C381.1 149.3 382.4 149.3 382.8 149.1C383.3 149 384.5 148.4 385 148.3C385.5 148.2 386.7 148.6 387.2 148.6C387.7 148.5 388.9 147.9 389.3 147.8C389.8 147.7 391.1 147.5 391.6 147.6C392.1 147.7 393.3 148.7 393.9 148.9C394.4 149.1 395.8 149.2 396.4 149.4C397 149.5 398.5 149.9 399.1 150.2C399.6 150.4 400.8 151.5 401.4 151.7C402 151.9 403.5 151.9 404.1 152C404.8 152 406.3 152 406.9 152.1C407.5 152.1 409 152.5 409.6 152.4C410.1 152.3 411.5 151.4 412 151.1C412.6 150.9 414 150.2 414.5 150.1C415.1 150 416.4 150 416.9 150.1C417.3 150.3 418.4 151 418.9 151.2C419.4 151.4 420.6 151.6 421.1 151.7C421.6 151.7 422.9 151.7 423.4 151.8C423.9 151.9 425.1 152.4 425.5 152.6C426 152.8 427.2 153.2 427.7 153.4C428.2 153.5 429.4 153.8 429.9 153.9C430.4 154 431.7 153.9 432.2 154C432.7 154.2 433.7 154.9 434.2 155.2C434.7 155.4 436.4 155.9 437.1 156.1C437.7 156.2 439.7 156.6 440 156.6" fill="none" stroke="#111111" stroke-width="1.8" stroke-linejoin="round" stroke-linecap="round"/>
<path d="M439.9 156.2C440.2 156.1 442.1 155.8 442.7 155.6C443.2 155.5 444.4 155.3 444.9 155.2C445.3 155.1 446.5 154.6 447 154.6C447.5 154.5 448.8 154.8 449.3 154.8C449.8 154.8 451 154.6 451.5 154.5C452 154.5 453.2 154.5 453.7 154.5C454.2 154.5 455.4 154.9 455.8 154.9C456.3 155 457.6 155.2 458.1 155.2C458.6 155.2 459.8 155 460.3 154.9C460.7 154.8 461.9 154.3 462.4 154.2C463 154.1 464.7 154.1 465.3 154.1C466 154.2 467.8 154.6 468.2 154.7" fill="none" stroke="#111111" stroke-width="1.8" stroke-linejoin="round" stroke-linecap="round"/>
<path d="M432.2 110.7C432.3 110.1 432.5 107.9 432.9 107.4C433.2 106.8 434.9 106.3 435.4 105.9C436 105.5 437.2 104.2 437.7 103.9C438.2 103.6 439.3 103 439.8 102.8C440.3 102.7 441.7 102.7 442.2 102.6C442.7 102.5 443.8 101.8 444.3 101.6C444.8 101.3 446.1 100.5 446.7 100.4C447.2 100.2 448.7 100.1 449.2 100.1C449.7 100.2 450.8 100.5 451.3 100.7C451.7 100.8 452.8 101 453.3 101.2C453.7 101.4 455 102.3 455.3 102.7C455.7 103.1 456.1 104.5 456.6 105C457 105.5 459 106.8 459.3 107.3C459.6 107.9 459.1 109.3 459.2 109.9C459.3 110.4 459.9 111.7 460 112.3C460 112.8 459.8 114.2 459.7 114.8C459.6 115.3 459.1 116.7 459.1 117.2C459.1 117.7 459.7 119 460 119.5C460.3 119.9 461.2 121 461.6 121.2C462 121.4 463.3 121.3 463.7 121.4C464.2 121.5 465.2 122.2 465.7 122.1C466.2 122.1 467.5 121.4 468.1 121.2C468.7 121.1 470.2 120.4 470.8 120.7C471.3 121 473 123.2 473.2 123.8C473.5 124.4 473.2 125.5 473.1 125.9C473 126.4 472.6 127.5 472.4 128C472.1 128.4 471.1 129.3 470.8 129.7C470.4 130 469.4 130.9 469 131.2C468.6 131.5 467.5 132.3 467.2 132.6C466.8 133 466.1 134.2 465.7 134.5C465.3 134.8 464.1 135.1 463.6 135.3C463.2 135.5 462 136.2 461.6 136.2C461.1 136.3 460 135.9 459.5 135.8C459 135.7 457.8 135.6 457.4 135.4C457 135.2 456.1 134.5 455.7 134.2C455.3 134 454.3 133.3 454 132.9C453.8 132.6 453.4 131.4 453.2 131C452.9 130.6 451.9 129.9 451.8 129.5C451.6 129.1 451.8 127.9 451.8 127.4C451.9 126.9 452.3 125.8 452.6 125.4C452.8 125 453.9 124.4 454.1 124C454.4 123.7 454.9 122.8 454.9 122.2C454.9 121.5 454.6 118.7 454.2 118.4C453.7 118.1 451.6 118.8 450.9 119.2C450.3 119.6 449 122 448.5 122.1C447.9 122.3 446.6 121.1 446.1 120.7C445.5 120.3 444.2 118.9 443.5 118.9C442.9 118.9 440.8 120.2 440.2 120.5C439.6 120.7 438.6 121 438.1 121.1C437.7 121.3 436.7 121.7 436.1 121.9C435.5 122.1 433.2 123.2 432.8 123C432.4 122.7 432.5 120.6 432.3 120C432.2 119.3 431.4 117.8 431.3 117.2C431.2 116.7 431.6 115.5 431.6 115C431.7 114.5 431.6 113.3 431.7 112.8C431.7 112.3 432.1 111.3 432.2 110.7Z" fill="none" stroke="#111111" stroke-width="1.8" stroke-linejoin="round" stroke-linecap="round"/>
<path d="M432.8 126.2C433.2 125.7 434.5 125.6 435 125.5C435.5 125.4 436.7 125.4 437.2 125.3C437.7 125.3 438.9 125.1 439.5 125.2C440 125.4 441.6 126.3 442.2 126.5C442.9 126.7 444.9 126.8 445.3 127C445.7 127.3 445.8 128.6 445.9 129C446 129.5 446.4 130.7 446.1 131.3C445.9 131.8 444.1 133.5 443.5 133.8C443 134.1 441.8 133.7 441.3 133.8C440.8 133.8 439.6 134 439.1 134.1C438.6 134.2 437.4 134.6 436.9 134.5C436.4 134.5 435.3 134.1 434.8 133.9C434.3 133.7 433.1 133.3 432.8 132.8C432.5 132.3 432 130.3 432 129.5C432 128.8 432.5 126.6 432.8 126.2Z" fill="none" stroke="#111111" stroke-width="1.8" stroke-linejoin="round" stroke-linecap="round"/>
<ellipse cx="450.6" cy="134.1" rx="1.6" ry="1.3" fill="none" stroke="#111111" stroke-width="1.3"/>
<path d="M457.5 83.4C457.7 83.1 459.1 83 459.5 82.9C460 82.8 461.2 82.2 461.6 82.3C462.1 82.4 463 83.8 463.4 84.2C463.8 84.5 465.2 84.8 465.5 85.2C465.8 85.6 465.9 87.4 466.1 88.1C466.2 88.7 466.7 90.4 466.6 91C466.5 91.5 465.5 92.3 465.3 92.8C465.1 93.3 465 95.1 464.8 95.1C464.6 95 463.5 93 463.2 92.6C462.8 92.2 461.9 91.6 461.6 91.2C461.3 90.9 461 89.7 460.7 89.3C460.5 88.9 459.5 88 459.1 87.7C458.8 87.3 457.7 86.5 457.5 86C457.3 85.5 457.2 83.7 457.5 83.4Z" fill="none" stroke="#111111" stroke-width="1.8" stroke-linejoin="round" stroke-linecap="round"/>
<ellipse cx="456.3" cy="92.2" rx="2" ry="1" fill="none" transform="rotate(20 456.3 92.2)" stroke="#111111" stroke-width="1.3"/>
<ellipse cx="458.8" cy="98.3" rx="2.1" ry="2.8" fill="none" transform="rotate(20 458.8 98.3)" stroke="#111111" stroke-width="1.3"/>
<ellipse cx="464.6" cy="103.2" rx="1.5" ry="2.5" fill="none" transform="rotate(10 464.6 103.2)" stroke="#111111" stroke-width="1.3"/>
<path d="M505.2 64.7C504.9 64.8 504.2 66.2 503.9 66.7C503.6 67.2 503.1 68.4 502.8 68.9C502.6 69.3 501.8 70.4 501.5 70.8C501.2 71.2 500.6 72.4 500.3 72.8C499.9 73.2 498.5 74.3 498.6 74.5C498.6 74.6 500.2 74.4 500.7 74.5C501.2 74.5 502.2 75 502.7 75.1C503.2 75.3 504.6 75.7 505.2 76C505.7 76.2 507.4 76.6 507.7 76.9C508 77.3 507.7 78.9 507.8 79.4C507.8 80 508 81.4 508.1 81.9C508.2 82.4 508.6 83.9 508.4 84.3C508.2 84.6 506.7 84.8 506.3 85C505.8 85.2 504.9 85.9 504.3 85.9C503.8 85.9 502.1 85.3 501.5 85.2C500.8 85.1 499.1 84.9 498.6 85.2C498.1 85.5 497 87.1 497 87.6C496.9 88 497.9 89 498.3 89.3C498.6 89.5 500.1 89.7 500.3 90.1C500.6 90.5 500.3 92.4 500.4 93C500.5 93.7 500.6 95.3 501 95.9C501.3 96.5 502.9 97.9 503.4 98.1C504 98.4 505.1 98.3 505.6 98.2C506.1 98.2 507.3 97.9 507.7 97.6C508.1 97.2 508.8 95.2 509.2 95.1C509.6 95 511.3 96.2 511.6 96.7C511.9 97.2 511.7 99 511.8 99.6C511.9 100.2 512.5 101.8 512.7 102.4C512.8 103 512.8 104.3 512.9 104.9C513 105.4 513.3 106.8 513.3 107.3C513.3 107.9 513 109 512.9 109.5C512.8 110 512.8 111.2 512.8 111.7C512.8 112.2 512.8 113.4 512.9 113.9C512.9 114.5 513 116.1 513.1 116.8C513.1 117.5 513.1 119.5 513.3 119.8C513.6 120.1 514.8 120 515.1 119.7C515.3 119.3 515.5 117.5 515.6 116.8C515.7 116.2 515.7 114.5 515.7 113.9C515.7 113.3 515.5 112.2 515.5 111.7C515.5 111.2 515.7 110 515.8 109.5C515.8 109 516.2 107.8 516.2 107.3C516.3 106.8 516.2 105.6 516.3 105.1C516.4 104.6 517.3 103.5 517.4 103C517.5 102.5 517.4 101.3 517.5 100.8C517.5 100.3 517.7 99.1 517.7 98.6C517.8 98.1 517.9 96.9 517.9 96.4C517.9 95.9 518.1 94.8 518 94.2C518 93.6 517.6 92 517.4 91.3C517.3 90.7 516.7 89 516.8 88.4C516.8 87.8 517.7 86.6 517.9 86.1C518.1 85.5 518.1 84.1 518.3 83.6C518.6 83.1 519.6 82.3 519.9 81.9C520.3 81.5 521.2 80.7 521.6 80.3C521.9 79.8 522.7 78.7 522.9 78.3C523.2 77.8 524 76.7 523.9 76.3C523.8 75.8 522.6 74.5 522.3 74.4C522 74.4 521.2 75.6 520.9 75.9C520.5 76.2 519.5 76.9 519.1 77.1C518.7 77.3 517.5 77.5 517.1 77.6C516.6 77.7 515.6 77.9 515 77.7C514.4 77.5 512 76.6 511.6 76.2C511.1 75.8 511.2 74.5 511.1 74C510.9 73.5 510.4 72.5 510.2 72C510 71.5 509.4 70.1 509.2 69.6C509 69 508.7 67.5 508.4 67.1C508.1 66.7 507.1 66.2 506.8 65.9C506.4 65.6 505.5 64.6 505.2 64.7Z" fill="none" stroke="#111111" stroke-width="1.8" stroke-linejoin="round" stroke-linecap="round"/>
<ellipse cx="503.8" cy="80.7" rx="1.5" ry="2.1" fill="none" transform="rotate(15 503.8 80.7)" stroke="#111111" stroke-width="1.3"/>
<path d="M515 57.3C515.4 57 517.7 56.4 518.2 56.5C518.7 56.6 519.3 57.8 519.7 58.1C520 58.5 520.9 59.3 521.2 59.7C521.4 60.2 521.9 61.6 522 62.1C522.1 62.7 522.1 64.1 522 64.7C522 65.2 521.7 66.6 521.5 67.2C521.4 67.7 521 68.9 520.7 69.5C520.3 70.1 518.8 72.4 518.2 72.6C517.7 72.8 516.2 71.6 515.8 71.2C515.4 70.8 514.7 69.8 514.5 69.3C514.3 68.9 514.1 67.6 514 67.1C513.9 66.6 513.7 65.2 513.7 64.7C513.7 64.1 513.6 62.7 513.7 62.2C513.8 61.6 514.4 60.3 514.5 59.8C514.6 59.2 514.6 57.7 515 57.3Z" fill="none" stroke="#111111" stroke-width="1.8" stroke-linejoin="round" stroke-linecap="round"/>
<ellipse cx="526.8" cy="57.7" rx="3.3" ry="3" fill="none" stroke="#111111" stroke-width="1.4"/>
<ellipse cx="528.1" cy="70.1" rx="3.3" ry="3.3" fill="none" stroke="#111111" stroke-width="1.4"/>
<ellipse cx="493.3" cy="81.9" rx="1.8" ry="2.5" fill="none" transform="rotate(-10 493.3 81.9)" stroke="#111111" stroke-width="1.3"/>
<ellipse cx="506.4" cy="102.7" rx="1.3" ry="2" fill="none" transform="rotate(15 506.4 102.7)" stroke="#111111" stroke-width="1.3"/>
<path d="M193.8 258.8C193.8 259.1 195.4 259.4 195.8 259.7C196.3 259.9 197.2 260.7 197.6 260.9C198.1 261.2 199 261.9 199.6 262C200.1 262.1 201.7 262 202.3 262C202.9 262 204.4 261.6 205 261.6C205.7 261.7 207.2 262.2 207.8 262.2C208.4 262.1 209.6 261.2 210.2 261.1C210.7 261 212.3 261.3 212.8 261.3C213.4 261.2 214.7 260.8 215.3 260.6C215.8 260.4 217.1 259.5 217.7 259.4C218.2 259.3 219.8 259.7 220.4 259.8C221 259.9 222.5 260.3 223.1 260.4C223.7 260.5 225.3 260.7 225.9 260.6C226.5 260.4 227.8 259.5 228.3 259.2C228.8 259 230.1 258.2 230.7 258C231.2 257.7 232.6 257.3 233.2 257C233.7 256.7 235.2 255.8 235.6 255.4C236.1 254.9 237.1 253.6 237.2 253C237.4 252.5 237.1 251.1 237 250.5C236.9 250 236.8 248.2 236.6 248.2C236.4 248.1 235.6 249.4 235.3 249.7C235 250 234.2 250.8 233.9 251.2C233.6 251.7 233.1 253.2 232.7 253.6C232.4 254.1 231.2 255.1 230.8 255.3C230.3 255.6 229.1 255.7 228.6 255.7C228.1 255.8 226.8 255.6 226.3 255.6C225.9 255.7 224.7 256.1 224.2 256.2C223.7 256.3 222.5 256.8 222 256.8C221.6 256.8 220.3 256.4 219.8 256.4C219.3 256.5 218.1 257 217.6 257.1C217.1 257.2 215.9 257.3 215.4 257.3C214.9 257.3 213.7 257.2 213.2 257C212.7 256.9 211.6 256.5 211.1 256.3C210.5 256.1 208.8 255.7 208.2 255.5C207.5 255.3 205.5 255 205.2 254.6C205 254.2 205.9 252.6 206.2 252C206.5 251.5 207.9 249.8 207.8 249.8C207.8 249.7 206.3 251.5 205.9 251.9C205.4 252.3 204.2 253.3 203.6 253.7C203.1 254.1 201.6 255.2 201 255.5C200.4 255.8 198.5 256 197.9 256.2C197.3 256.4 196.2 256.9 195.7 257.2C195.2 257.5 193.8 258.5 193.8 258.8Z" fill="none" stroke="#111111" stroke-width="1.8" stroke-linejoin="round" stroke-linecap="round"/>
<path d="M204.5 255C205.3 254.9 207.8 254.4 209.4 254.3C211.1 254.3 213.5 254.6 214.3 254.6" fill="none" stroke="#111111" stroke-width="1" stroke-linejoin="round" stroke-linecap="round"/>
<path d="M257.2 237.4C257 237.7 256 239.2 255.8 239.7C255.6 240.3 255.1 242 255.4 242.4C255.7 242.8 257.5 243.3 258.2 243.5C258.8 243.7 261.1 243.9 261.2 244C261.3 244.2 259.3 244.9 258.8 245.2C258.2 245.4 256.9 246 256.3 246.2C255.7 246.5 254 246.8 253.6 247.2C253.2 247.5 253 248.8 252.9 249.3C252.7 249.7 251.9 251.1 252.1 251.3C252.4 251.5 254.3 251.2 254.9 251.2C255.5 251.2 257.1 251.1 257.7 251C258.3 250.9 259.9 250.7 260.5 250.7C261.1 250.7 262.7 250.7 263.3 250.7C263.9 250.7 265.9 250.7 266 250.9C266.1 251.1 264.9 252.3 264.6 252.6C264.2 252.9 263.3 253.4 262.8 253.6C262.3 253.8 260.5 254.2 259.8 254.3C259.2 254.4 257.5 254.6 256.8 254.6C256.1 254.6 254.4 254.5 253.8 254.6C253.2 254.7 251.9 255.4 251.4 255.5C250.8 255.6 249.4 255.8 248.9 255.9C248.3 255.9 246.7 255.9 246.2 256.2C245.8 256.4 245 257.6 244.7 258C244.4 258.4 243.7 259.5 243.4 259.9C243.1 260.4 242.7 261.6 242.2 262C241.8 262.4 240.1 263 239.6 263.3C239 263.7 237.6 264.7 237.2 265.2C236.8 265.8 236.3 267.5 236.1 268.2C235.8 268.8 234.8 270.6 234.8 271.1C234.9 271.6 236.2 272.1 236.5 272.4C236.8 272.8 237.1 274.4 237.4 274.4C237.7 274.5 238.9 273.4 239.4 273.1C239.8 272.8 241.5 272.3 241.5 271.8C241.6 271.3 240.3 268.8 239.8 268.5C239.2 268.3 236.8 269 236.6 269.4C236.4 269.8 237.6 271.4 237.8 272C237.9 272.7 237.6 274.4 237.8 275C237.9 275.6 239.1 277.1 239.1 277.7C239.2 278.2 238.6 279.3 238.5 279.8C238.3 280.3 238.2 281.6 238 282.1C237.9 282.5 237.7 283.9 237.4 284.3C237.1 284.7 235.9 285.4 235.5 285.7C235.1 286 234.1 286.8 233.7 287.2C233.4 287.5 232.6 288.6 232.5 289.1C232.4 289.6 232.9 291.1 233.1 291.6C233.3 292.2 234.3 293.7 234.1 294.1C233.9 294.6 232.1 295.3 231.6 295.7C231 296 229.2 296.9 229.2 297.3C229.2 297.8 231 299 231.4 299.6C231.9 300.2 233.3 301.8 233.4 302.3C233.5 302.9 232.7 303.9 232.4 304.3C232.1 304.7 231 305.5 230.7 305.9C230.4 306.3 230 307.5 230 308C229.9 308.6 230.6 310.2 230.6 310.9C230.7 311.5 230.8 313.2 230.6 313.7C230.5 314.2 229.3 315 229 315.4C228.7 315.8 228.3 317.2 228.1 317.6C227.8 318.1 227 319.1 226.8 319.6C226.6 320.1 226.3 321.5 226.1 322.1C226 322.6 225.6 324 225.4 324.6C225.2 325.1 224.5 326.4 224.3 326.9C224 327.5 223.7 329.2 223.5 329.8C223.3 330.4 222.5 331.9 222.3 332.5C222 333.1 221.3 334.6 221 335.2C220.7 335.8 220.1 337.2 219.8 337.8C219.5 338.4 218.6 339.8 218.4 340.5C218.1 341.1 217.7 342.7 217.5 343.3C217.4 344 217.1 345.6 216.9 346.2C216.7 346.9 216.1 348.8 216 349.1" fill="none" stroke="#111111" stroke-width="1.8" stroke-linejoin="round" stroke-linecap="round"/>
<path d="M195.4 285.8C195.3 285.5 196.1 283.9 196.3 283.4C196.5 282.8 196.8 281.4 197.1 280.9C197.3 280.4 198.3 279.2 198.6 278.8C199 278.3 199.8 277 200.3 276.6C200.9 276.3 203.3 275.5 203.7 275.6C204.2 275.7 204.6 277.1 204.7 277.6C204.7 278 204.4 279.4 204.2 279.8C204 280.3 203.2 281.4 202.9 281.7C202.5 282.1 201.5 282.9 201.1 283.3C200.7 283.6 199.9 284.5 199.5 284.9C199 285.3 197.5 286.7 197.1 286.8C196.6 286.9 195.5 286.2 195.4 285.8Z" fill="none" stroke="#111111" stroke-width="1.8" stroke-linejoin="round" stroke-linecap="round"/>
<path d="M230 277.7C229.9 277.6 228.6 278.7 228.2 278.9C227.7 279.2 226.6 279.7 226.2 279.9C225.7 280.1 224.7 280.7 224.2 280.9C223.7 281.2 222 281.8 221.5 282.2C220.9 282.5 219.7 283.7 219.2 284.1C218.7 284.5 217.1 285.1 216.6 285.5C216.1 285.9 214.9 287.1 214.5 287.6C214.1 288.1 213.5 289.4 213.1 289.8C212.7 290.3 211.4 291 211 291.6C210.6 292.1 209.8 294.1 209.3 294.8C208.9 295.4 207.2 296.8 207 297.3C206.7 297.9 207 299.3 207.1 299.8C207.2 300.4 207.5 301.6 207.6 302.2C207.8 302.7 208.1 304.6 208.6 304.7C209.1 304.8 211.5 303.7 212 303.2C212.6 302.6 213 300.5 213.6 299.9C214.1 299.4 216.4 298.6 216.9 298.3C217.5 297.9 218.2 297.2 218.4 296.8C218.7 296.4 219 295.3 219.2 294.8C219.4 294.4 219.9 293.1 220.2 292.6C220.4 292.2 221.3 291.1 221.6 290.7C222 290.3 223 289.2 223.4 288.7C223.8 288.3 224.7 287.2 225.1 286.7C225.5 286.2 226.4 284.9 226.7 284.4C226.9 283.9 227.3 282.3 227.6 281.8C227.8 281.3 228.6 280.2 228.8 279.8C229.1 279.3 230.1 277.8 230 277.7Z" fill="none" stroke="#111111" stroke-width="1.8" stroke-linejoin="round" stroke-linecap="round"/>
<path d="M177.5 307.2C177.7 306.8 178 305.3 178.2 304.7C178.3 304.2 178.9 302.9 179.1 302.3C179.3 301.7 179.5 300 179.8 299.6C180.1 299.3 181.7 299.4 182.1 299.3C182.6 299.1 183.7 298.1 184.1 297.9C184.6 297.7 185.8 297.4 186.3 297.5C186.9 297.6 188.3 298.8 188.8 299.1C189.4 299.5 190.8 300.6 191.3 300.6C191.8 300.5 192.6 299.1 193 298.7C193.4 298.3 194.6 297.5 195 297.2C195.5 296.8 196.6 296 197.1 295.8C197.6 295.5 199.1 295.3 199.6 295.1C200.2 294.9 201.8 293.9 202.2 294C202.6 294.1 202.9 295.7 203 296.1C203.1 296.6 203 297.9 203.1 298.4C203.2 298.9 203.6 300.1 203.6 300.6C203.7 301.1 203.5 302.3 203.5 302.8C203.5 303.3 203.5 304.6 203.4 305C203.3 305.5 202.6 306.8 202.8 307.2C203 307.6 204.7 308.4 205.1 308.8C205.6 309.2 206.4 310.4 206.8 310.9C207.2 311.4 208.6 312.5 208.6 313C208.6 313.4 207.4 314.2 207.1 314.6C206.8 315.1 206.5 316.3 206.3 316.7C206.1 317.1 205.6 318.3 205.3 318.5C204.9 318.8 203.6 318.9 203.1 319C202.6 319.1 201.4 319.4 201 319.5C200.5 319.6 199.3 319.4 198.8 319.6C198.3 319.8 196.8 320.8 196.4 321.2C195.9 321.7 195.1 323.4 194.7 323.5C194.2 323.7 192.7 323.2 192.1 323C191.5 322.8 189.9 322.4 189.5 322C189.2 321.7 189 320.1 188.9 319.5C188.7 319 188 317.7 188.1 317.1C188.3 316.5 189.6 315.1 190.1 314.5C190.5 314 191.9 312.7 192.1 312.2C192.2 311.6 191.7 310.2 191.5 309.6C191.3 309 191 307.4 190.6 307C190.2 306.7 188.5 306.8 188 306.6C187.4 306.5 186.2 305.5 185.7 305.7C185.3 305.8 184.1 307.6 183.7 308.1C183.2 308.7 182 310.1 181.5 310.5C181 310.9 179.8 311.6 179.3 312C178.9 312.4 177.5 313.9 177.3 313.8C177 313.7 177.3 311.8 177.3 311.3C177.2 310.7 176.6 309.3 176.7 308.9C176.7 308.4 177.3 307.7 177.5 307.2Z" fill="none" stroke="#111111" stroke-width="1.8" stroke-linejoin="round" stroke-linecap="round"/>
<path d="M230 342.5C230.1 342.3 230.6 340.6 230.9 340.1C231.2 339.6 232.5 338.7 232.8 338.2C233.1 337.7 233.2 336.2 233.5 335.7C233.7 335.1 234.8 334 235 333.5C235.2 333.1 235.5 331.8 235.7 331.3C235.9 330.8 236.4 329.7 236.7 329.3C237 328.8 237.9 327.9 238.2 327.4C238.4 327 238.7 325.8 238.9 325.2C239.2 324.7 240.3 323.3 240.5 322.7C240.8 322.1 241 320.4 241.2 319.8C241.4 319.2 241.9 317.5 242.2 317C242.4 316.4 243 315.3 243.3 314.9C243.5 314.4 244.4 313.3 244.7 312.9C245 312.5 245.8 311.4 246.1 311C246.4 310.5 247.4 309.3 247.4 308.8C247.4 308.3 246.5 306.8 246.3 306.2C246.2 305.6 246.1 304 246 303.4C245.9 302.8 245.4 301.3 245.4 300.6C245.5 300 246.3 298.3 246.3 297.7C246.3 297 245.8 295.3 245.7 294.6C245.7 293.9 246 292 246.3 291.5C246.5 290.9 247.5 289.8 247.9 289.4C248.3 289 249.5 288.2 250 287.8C250.5 287.5 251.8 286.7 252.2 286.3C252.6 285.9 253.4 284.7 253.8 284.3C254.3 284 255.5 283.6 255.9 283.4C256.4 283.2 257.6 282.8 258.1 282.6C258.6 282.4 259.7 281.8 260.1 281.5C260.6 281.2 261.5 280.3 262 280C262.4 279.7 263.8 278.9 264.3 278.7C264.9 278.5 266.5 278.5 267.1 278.3C267.6 278.1 269.3 276.7 269.3 276.7C269.4 276.8 268 278.5 267.5 278.8C267 279.2 265.5 279.6 265 280C264.5 280.3 263.5 281.4 263 281.8C262.6 282.2 261.4 283.1 260.9 283.5C260.4 283.8 259.2 284.6 258.8 285.1C258.4 285.5 257.6 286.8 257.3 287.3C257 287.8 256.2 289 255.8 289.4C255.4 289.9 254.3 290.9 253.9 291.3C253.5 291.7 252.5 292.7 252.2 293.3C251.8 293.8 251 295.4 250.9 296C250.7 296.6 250.6 298.3 250.6 298.9C250.7 299.5 250.9 300.7 251.2 301.1C251.4 301.6 252.6 302.3 252.9 302.7C253.2 303.1 253.4 304.3 253.8 304.7C254.2 305.1 255.9 306 256.5 306.3C257.2 306.6 259.2 307.4 259.6 307.3C260.1 307.1 260.4 305.3 260.7 304.7C261 304.1 261.9 302.2 262.1 302.2C262.4 302.2 262.9 304 263.1 304.5C263.3 304.9 264.1 306.1 264.3 306.6C264.5 307.1 265 308.3 265.1 308.8C265.2 309.4 265.5 311.2 265.6 311.9C265.6 312.5 265.4 314.2 265.4 314.9C265.4 315.5 265.3 317.9 265.4 318C265.5 318 265.8 315.9 266.1 315.4C266.3 314.9 267.3 313.8 267.7 313.3C268 312.9 268.9 311.7 269.2 311.3C269.5 310.8 270.1 309.5 270.3 308.9C270.5 308.3 270.8 306.8 271 306.2C271.2 305.6 272 304.3 272.2 303.7C272.5 303.2 273.2 301.8 273.5 301.3C273.8 300.7 275 299.6 275.3 299.1C275.6 298.6 275.8 297.2 276 296.7C276.3 296.2 277.3 295.2 277.5 294.7C277.8 294.2 278.5 293 278.6 292.4C278.7 291.8 278.5 290.1 278.5 289.4C278.5 288.7 278.7 287 278.7 286.4C278.8 285.7 279 283.4 279.1 283.4C279.1 283.4 279.5 285.6 279.6 286.2C279.8 286.8 280.4 288.3 280.5 288.9C280.5 289.5 280.4 291.2 280.5 291.8C280.6 292.4 281.3 293.9 281.4 294.5C281.5 295.1 281.3 297 281.7 297.3C282 297.5 283.9 296.5 284.5 296.4C285.1 296.4 286.9 296.2 287.3 296.5C287.8 296.9 288.4 299.2 288.2 299.7C288 300.1 286.3 300.6 285.7 300.9C285.2 301.2 284 302.1 283.4 302.1C282.8 302.1 280.7 300.6 280.2 300.7C279.8 300.8 279.8 302.5 279.7 303C279.5 303.5 279 304.7 278.8 305.2C278.5 305.7 277.8 306.9 277.6 307.4C277.4 307.9 277.1 309.2 277 309.7C276.9 310.2 276.9 311.6 276.8 312.1C276.8 312.7 276.6 314.3 276.5 314.9C276.3 315.5 275.9 317 275.7 317.6C275.6 318.2 275.2 320 275.1 320.3" fill="none" stroke="#111111" stroke-width="1.8" stroke-linejoin="round" stroke-linecap="round"/>
<path d="M245.6 335.1C245.6 334.8 245.9 333.2 245.8 332.6C245.7 332.1 244.9 330.8 244.8 330.2C244.8 329.7 245.2 328.3 245.2 327.7C245.2 327.2 244.7 325.8 244.8 325.3C244.9 324.8 246 323.5 246.3 322.9C246.5 322.4 246.9 320.8 247.2 320.4C247.6 320.1 248.9 320.3 249.4 320.2C249.9 320.1 251.1 319.7 251.6 319.6C252.1 319.5 253.4 319.3 253.8 319.5C254.2 319.7 255 320.9 255.3 321.4C255.5 321.8 256 323.1 256.3 323.5C256.6 324 257.8 324.8 258 325.3C258.3 325.7 258.4 327.2 258.4 327.7C258.4 328.3 258 329.7 258 330.2C258.1 330.8 258.7 332.1 258.7 332.6C258.8 333.2 258.8 334.6 258.9 335.1C259 335.6 259.6 336.7 259.7 337.2C259.8 337.7 259.7 339 259.7 339.5C259.8 340 260.6 341.4 260.4 341.8C260.1 342.1 258.2 342.2 257.7 342.5C257.1 342.7 255.9 343.9 255.4 344C255 344.1 253.9 343.3 253.5 343.3C253 343.2 251.5 343.3 251.3 343.3" fill="none" stroke="#111111" stroke-width="1.8" stroke-linejoin="round" stroke-linecap="round"/>
<ellipse cx="307.6" cy="378.2" rx="3" ry="2.1" fill="none" stroke="#111111" stroke-width="1.3"/>
<path d="M278.4 328.5C278.7 328.5 280.2 328.6 280.7 328.7C281.2 328.8 282.4 329.1 282.9 329.3C283.4 329.4 284.7 329.8 285 330.2C285.3 330.6 285.4 332 285.6 332.5C285.8 332.9 286.5 334.1 286.7 334.6C286.9 335 287.5 336.3 287.5 336.8C287.5 337.3 286.9 338.5 286.7 339C286.5 339.5 285.9 340.6 285.7 341.1C285.5 341.6 285.3 342.9 284.9 343.3C284.6 343.7 283.1 344.4 282.6 344.8C282.1 345.1 280.9 346 280.4 346.3C279.9 346.7 278.7 347.7 278.3 348.2C278 348.8 277.9 350.5 277.7 351.1C277.4 351.7 276.2 353 275.9 353.6C275.6 354.2 275.5 356 275.2 356.5C274.9 357 273.8 357.7 273.4 358.1C273.1 358.4 272.3 359.5 271.9 359.9C271.6 360.2 270.3 361 270.1 361.4C269.9 361.8 270 363.2 269.9 363.7C269.9 364.2 269.5 365.4 269.3 365.8C269.2 366.3 268.9 367.6 268.6 368C268.4 368.5 267.6 369.5 267.2 369.9C266.8 370.2 265.4 370.7 265 371C264.6 371.3 263.9 372.5 263.6 372.8C263.2 373.2 262.3 374.1 262 374.6C261.8 375 261.3 376.3 261 376.8C260.7 377.2 259.6 378.2 259.4 378.7C259.1 379.2 258.8 380.8 258.7 381.1" fill="none" stroke="#111111" stroke-width="2.1" stroke-linejoin="round" stroke-linecap="round"/>
<path d="M271.9 360.4C271.8 360.7 271.5 362.4 271.3 362.9C271.1 363.5 270.2 364.7 270 365.2C269.7 365.8 269.7 367.3 269.4 367.7C269 368.2 267.4 368.9 266.9 369.3C266.5 369.8 265.8 371.4 265.3 371.9C264.9 372.4 263.4 373.1 262.9 373.5C262.3 374 261 375.2 260.6 375.8C260.1 376.3 258.9 377.9 258.6 378.5C258.4 379 258.3 380.4 258.3 380.9C258.4 381.5 259.1 382.8 259.2 383.4C259.3 383.9 258.9 385.3 258.8 385.9C258.8 386.4 258.9 387.6 258.8 388.1C258.8 388.6 258.6 389.8 258.5 390.3C258.4 390.7 258.3 391.9 257.9 392.2C257.5 392.6 255.1 393.5 254.7 393.2C254.3 393 254.4 390.9 254.2 390.2C254 389.6 253.5 388 253 387.5C252.5 387 250.1 385.6 249.6 385.8C249 386 248.1 388.5 248.1 389.1C248 389.7 249 390.7 249.1 391.2C249.3 391.7 249.3 393.1 249.5 393.6C249.6 394.1 250.1 395.3 250.4 395.8C250.7 396.3 251.9 397.2 252.2 397.7C252.5 398.2 252.9 399.6 253.2 400.1C253.5 400.6 254.3 401.8 254.6 402.3C254.9 402.8 255.7 404.3 256 404.9C256.3 405.5 256.7 407.1 257 407.7C257.2 408.3 257.9 409.9 258.1 410.5C258.3 411 258.6 412.3 258.8 412.9C258.9 413.4 259.2 414.8 259.3 415.4C259.3 415.9 259.2 417.5 259.6 417.9C260 418.3 262.5 418.9 262.9 418.7C263.3 418.5 262.9 416.7 263 416.2C263 415.6 263.5 414.3 263.5 413.8C263.5 413.3 263 412.1 263 411.6C262.9 411.1 262.9 409.8 262.8 409.3C262.6 408.9 262 407.7 261.9 407.2C261.8 406.7 261.8 405.3 261.8 404.7C261.8 404.2 261.7 402.6 262 402.2C262.2 401.8 263.5 401.5 263.8 401.3C264.2 401 264.9 400.1 265.3 399.8C265.7 399.6 267.1 399.1 267.7 399C268.3 398.9 269.8 398.7 270.3 398.9C270.9 399 271.9 400.2 272.4 400.5C272.8 400.9 273.9 401.9 274.3 402.3C274.8 402.7 276.2 403.7 276.7 404C277.3 404.4 278.9 405 279.4 405.5C279.9 405.9 280.9 407.3 281.2 407.8C281.5 408.4 282.1 410.1 282.5 410.6C282.9 411 284.5 411.7 285.1 412.1C285.6 412.4 287 413.4 287.5 413.7C288 414 289.1 414.6 289.5 415C289.9 415.3 290.6 416.6 291.1 416.9C291.5 417.2 292.8 417.6 293.3 417.8C293.7 418 294.8 418.3 295.3 418.4C295.7 418.5 297 418.9 297.3 418.7C297.5 418.5 297.4 417 297.5 416.5C297.6 416 298.2 414.8 298.3 414.4C298.3 413.9 298.4 412.7 298.4 412.1C298.3 411.6 298.1 410.2 298 409.7C298 409.1 298.2 407.8 298.1 407.3C297.9 406.8 297.1 405.5 296.7 405C296.3 404.5 295 403.5 294.8 403.1C294.6 402.6 294.7 401.4 294.8 400.9C294.9 400.5 295.3 399.2 295.6 399.1C296 399 297.6 399.9 298.2 400.2C298.8 400.4 300.1 401.4 300.6 401.6C301.1 401.8 302.2 401.7 302.7 401.8C303.2 401.9 304.3 402.4 304.8 402.4C305.2 402.4 306.3 401.9 306.8 401.8C307.3 401.7 308.6 401.2 309 401.4C309.3 401.7 310 403.5 310.1 404.2C310.3 404.8 310.3 406.7 310.5 407.2C310.7 407.7 311.6 408.6 312 408.9C312.4 409.3 313.6 410.7 313.9 410.6C314.2 410.4 314.4 408.4 314.6 407.8C314.9 407.3 315.8 405.6 316.2 405.6C316.6 405.6 317.6 407.4 318 408C318.4 408.5 319.1 410.2 319.5 410.5C320 410.7 321.5 410.3 322 410.3C322.6 410.3 323.9 410.6 324.5 410.7C325 410.8 326.3 411 326.9 411.1C327.5 411.2 329.1 411.6 329.5 411.4C329.9 411.2 330 409.5 330.3 409.1C330.5 408.6 331.6 407.8 331.8 407.2C332.1 406.6 332.3 404.2 332.6 404C332.9 403.8 334 405.3 334.5 405.5C334.9 405.8 336.2 406.3 336.7 406.3C337.2 406.2 338.6 405.4 339.1 405.2C339.7 405.1 341.1 405 341.7 404.9C342.3 404.9 344 404.9 344.6 404.8C345.3 404.7 347.1 404.3 347.4 403.9C347.7 403.5 347.2 401.9 347.3 401.4C347.4 400.9 348.3 399.6 348.4 399C348.5 398.5 348.1 397 348.2 396.5C348.4 396 349.3 394.2 349.8 394.2C350.3 394.2 351.8 396.3 352.4 396.6C352.9 396.9 354.3 397 354.8 397C355.4 397 356.8 396.5 357.3 396.5C357.9 396.5 359.2 397.1 359.8 397.1C360.3 397.2 361.5 396.8 362 396.8C362.5 396.9 363.7 397.1 364.1 397.1C364.6 397.2 365.8 397.4 366.3 397.5C366.8 397.6 367.9 398.1 368.4 398.2C368.9 398.3 370.3 398.1 370.8 398.1C371.3 398.2 372.4 398.7 372.9 398.9C373.4 399 374.8 399.2 375.4 399.3C375.9 399.4 377.3 399.8 377.8 399.8C378.4 399.8 379.7 399.4 380.3 399.3C380.8 399.2 382.3 399.3 382.6 399C382.9 398.6 382.8 396.7 382.9 396.1C383 395.5 383.2 393.7 383.6 393.3C384 393 385.6 393.2 386.1 393.1C386.7 392.9 388 392.1 388.5 391.9C389 391.8 390.1 391.7 390.6 391.7C391 391.6 392.2 391.5 392.7 391.2C393.1 390.9 394.3 389.5 394.8 389.2C395.4 388.9 397.1 388.7 397.7 388.4C398.3 388.2 399.8 386.9 400 386.7" fill="none" stroke="#111111" stroke-width="2.3" stroke-linejoin="round" stroke-linecap="round"/>
<path d="M400 386.6C400.3 386.5 402.1 385.8 402.7 385.5C403.4 385.2 404.8 384.4 405.4 384.1C406 383.8 407.7 383.1 408.1 382.7C408.6 382.2 409.2 380.6 409.5 380.1C409.9 379.5 410.9 378.2 411.3 377.7C411.7 377.2 412.6 375.7 413 375.3C413.4 374.9 414.5 374.1 415 373.8C415.5 373.5 416.7 372.8 417.2 372.5C417.7 372.2 418.7 371.3 419.1 370.9C419.6 370.6 420.7 369.8 421.2 369.5C421.7 369.2 423.2 368.4 423.8 368.2C424.4 368.1 426.1 368.1 426.7 368C427.3 367.9 429 367.4 429.4 367.1C429.9 366.7 430.5 365.6 430.9 365.2C431.3 364.9 432.5 364.3 432.9 364C433.3 363.6 434 362.6 434.4 362.2C434.8 361.8 436.3 360.9 436.8 360.5C437.3 360 438.5 358.9 439.1 358.6C439.6 358.2 441.4 357.4 441.7 357.2" fill="none" stroke="#111111" stroke-width="2.3" stroke-linejoin="round" stroke-linecap="round"/>
<ellipse cx="307.2" cy="378.1" rx="3.3" ry="2.1" fill="none" stroke="#111111" stroke-width="1.3"/>
<path d="M384.6 271.2C384.8 271 386.3 269.8 386.9 269.5C387.4 269.1 388.8 268.4 389.3 268.1C389.9 267.8 391.4 267.3 392 267C392.5 266.8 393.8 266.2 394.3 266C394.9 265.9 396.3 265.9 396.9 265.8C397.5 265.7 398.8 265.4 399.4 265.2C399.9 265.1 401.2 264.5 401.8 264.4C402.3 264.3 403.8 264.3 404.3 264.1C404.9 263.9 406.1 263.1 406.7 263C407.2 262.8 408.7 263.1 409.3 263C409.9 262.9 411.2 262.4 411.7 262.2C412.3 262 413.9 261.3 414.4 261C415 260.7 416.4 259.8 417 259.5C417.6 259.3 419.3 259.1 419.9 258.8C420.5 258.6 421.7 257.6 422.3 257.4C422.9 257.1 424.5 256.8 425.1 256.5C425.6 256.2 427.1 254.9 427.3 254.7" fill="none" stroke="#111111" stroke-width="1.8" stroke-linejoin="round" stroke-linecap="round"/>
<path d="M392 268.7C393.1 268.4 396.1 267.3 398.6 266.7C401 266.2 405.4 265.6 406.8 265.4" fill="none" stroke="#111111" stroke-width="1.1" stroke-linejoin="round" stroke-linecap="round"/>
<ellipse cx="392" cy="276.6" rx="3" ry="3" fill="none" stroke="#111111" stroke-width="1.4"/>
<path d="M413.4 276.8C413.7 277 415.1 278.4 415.6 278.9C416.1 279.3 417.4 280.3 418 280.6C418.6 280.9 420.6 281.5 420.7 281.8C420.8 282 419.1 282.4 418.7 282.7C418.3 282.9 417.5 284 417 284.3C416.6 284.5 415.4 284.8 414.9 284.9C414.4 285.1 413.3 285.8 412.8 286C412.3 286.1 410.9 286.2 410.4 286.3C409.9 286.5 408.9 287.2 408.4 287.4C407.9 287.6 406.5 288.2 406 288.3C405.5 288.4 404 288.5 403.6 288.3C403.1 288.2 402.5 287.1 402.1 286.8C401.7 286.6 400.7 286.2 400.2 286.1C399.7 286.1 398.3 286.4 397.8 286.5C397.2 286.6 395.7 286.5 395.2 286.7C394.7 286.8 393.7 287.8 393.2 287.9C392.7 288.1 391.2 287.9 390.7 288C390.3 288.2 389.2 289 388.8 289.3C388.3 289.6 387.2 290.5 386.8 290.9C386.5 291.4 386 292.8 385.7 293.3C385.3 293.7 384.3 294.6 383.8 295C383.3 295.3 381.6 295.9 381.1 296.3C380.5 296.7 379.4 298 378.9 298.4C378.4 298.7 377.2 299.1 376.7 299.3C376.2 299.5 375 299.7 374.5 299.9C374 300.1 372.8 300.7 372.3 300.8C371.8 300.9 370.5 300.9 370 300.9C369.5 300.9 368.3 300.6 367.9 300.5C367.4 300.4 366.2 300.2 365.7 300C365.1 299.9 363.7 299.1 363.1 298.9C362.4 298.8 360.9 298.7 360.3 298.6C359.6 298.5 358.1 298.1 357.5 298.1C357 298.1 355.7 298.4 355.3 298.3C354.8 298.2 353.6 297.5 353.1 297.4C352.7 297.3 351 297.1 351 297.3C351 297.5 352.8 298.7 353.4 299.1C353.9 299.5 355.2 300.5 355.8 300.8C356.4 301 358 301.2 358.6 301.4C359.2 301.6 360.6 302.5 361.2 302.7C361.8 302.9 363.4 303.1 364.1 303.2C364.7 303.3 366.2 303.7 366.8 303.8C367.4 304 368.8 304.6 369.5 304.7C370.1 304.8 371.7 304.5 372.3 304.7C372.9 304.8 374.3 305.9 374.9 306.1C375.5 306.3 377.1 306.5 377.7 306.6C378.3 306.7 379.9 307.1 380.5 307.3C381.1 307.5 382.5 308.2 383.1 308.4C383.8 308.6 385.4 308.5 386 308.7C386.6 308.9 388.1 309.8 388.7 310C389.2 310.1 390.4 310.1 390.9 310.1C391.4 310.1 392.6 310.1 393.1 310.2C393.6 310.2 394.8 310.9 395.3 310.7C395.8 310.5 397.2 309 397.7 308.5C398.2 308 399.6 306.8 400.1 306.4C400.7 306 402.2 305.4 402.8 305C403.3 304.7 404.6 303.2 405.1 303C405.6 302.8 406.9 303.2 407.4 303.1C407.9 303 409 302.2 409.5 302.1C409.9 301.9 411.2 301.8 411.7 301.9C412.2 302 413.2 302.9 413.7 303.1C414.2 303.2 415.5 303.3 416 303.4C416.5 303.5 417.7 303.8 418.2 304.1C418.7 304.3 420 305.2 420.6 305.5C421.1 305.8 422.5 306.5 422.9 306.9C423.4 307.3 424.4 308.5 424.9 308.8C425.3 309 426.6 309 427.1 309.1C427.6 309.3 428.7 310 429.2 310.1C429.7 310.3 431 310.3 431.4 310.6C431.9 310.8 432.7 311.9 433 312.2C433.4 312.6 434.1 313.7 434.6 314C435.1 314.3 436.8 314.5 437.3 314.8C437.9 315 439.1 315.9 439.7 316.2C440.2 316.5 441.5 317.1 442 317.3C442.6 317.5 444.3 317.9 444.5 318" fill="none" stroke="#111111" stroke-width="2" stroke-linejoin="round" stroke-linecap="round"/>
</g>
<g id="c1">
<path d="M282.3 200A70 70 0 1 1 284.8 190.7L346.1 204.6Z" fill="#fff"/>
<clipPath id="k1"><circle cx="216.2" cy="177" r="70"/></clipPath>
<g clip-path="url(#k1)">
<path d="M208.9 107.4L222.9 137.1L245.7 136.8L246.4 151.9L286.6 156.7L297 156.3L297 100.5L208.9 100.5Z" fill="#b9c6d8"/>
<path d="M251.7 154.6C253.9 151.7 262.6 151.7 265.6 154.9C268.7 158.1 267.7 167.1 270 173.8C272.3 180.4 277.8 188.3 279.6 194.7C281.3 201.1 281.6 207.9 280.5 212.1C279.3 216.4 276 218.5 272.6 220C269.3 221.5 262.7 224.9 260.4 221.2C258.1 217.6 259.8 204.9 259 198.2C258.2 191.4 256.6 185.1 255.5 180.7C254.4 176.4 253.2 176.4 252.5 172C251.9 167.6 249.5 157.4 251.7 154.6Z" fill="#b9c6d8"/>
<ellipse cx="204.9" cy="218.8" rx="17.4" ry="5.9" fill="#b9c6d8"/>
<path d="M208.9 187.7C209.5 187.1 212.1 191.2 213.3 192.9C214.4 194.7 217.1 196 215.9 198.2C214.7 200.4 208.3 205.2 206.3 206C204.3 206.9 203.1 205 203.7 203.4C204.3 201.8 208.9 199.1 209.8 196.4C210.7 193.8 208.3 188.3 208.9 187.7Z" fill="#b9c6d8"/>
</g>
<path d="M246.4 151.9L284.8 156.7M216.8 157.5L221.3 156.5M224.1 179.3L239.5 188.1M230.7 184.2L239.5 180.7" fill="none" stroke="#111111" stroke-width="1.2" stroke-linejoin="round" stroke-linecap="round"/>
<path d="M220.8 140.1L245.7 136.8L246.1 157.2L222 158.6Z" fill="#fff" stroke="#111111" stroke-width="1.3" stroke-linejoin="round" stroke-linecap="round"/>
<path d="M224.6 143.6L242.9 141L242.9 154.6L225.5 156Z" fill="#fff" stroke="#111111" stroke-width="1.3" stroke-linejoin="round" stroke-linecap="round"/>
<path d="M233 158.4L233.9 163.3M235.6 158.2L236.1 162.9M228.1 165.4L234.2 163.3L241.6 164.3M228.1 165.4L241.2 165.4" fill="none" stroke="#111111" stroke-width="1.2" stroke-linejoin="round" stroke-linecap="round"/>
<path d="M226.4 170.3L244.7 173.8L241.2 180.7L223.8 177.2Z" fill="#fff" stroke="#111111" stroke-width="1.3" stroke-linejoin="round" stroke-linecap="round"/>
<path d="M187.1 201.7L187.1 219.5M211.5 204.3L212.4 224.4M216.8 201.7L219.4 219.5M213.3 177.2L215 194.7" fill="none" stroke="#111111" stroke-width="1.3" stroke-linejoin="round" stroke-linecap="round"/>
<path d="M203.2 205.5C204.3 205 207.8 203.8 209.8 202.5C211.8 201.3 214.4 198.6 215.4 197.8" fill="none" stroke="#111111" stroke-width="2" stroke-linejoin="round" stroke-linecap="round"/>
<path d="M189.7 186C186.5 186 183 188.4 180.1 189.8C177.2 191.3 173.4 192.1 172.3 194.7C171.2 197.3 173.1 201.4 173.5 205.2C173.9 208.9 173.2 214.8 174.9 217C176.6 219.2 182.1 219.6 183.6 218.2C185.1 216.9 183.8 211.8 184 208.7C184.1 205.5 183.1 201.9 184.5 199.6C185.9 197.3 189.9 196.3 192.3 194.7C194.8 193.1 199.8 191.3 199.3 189.8C198.9 188.4 192.9 186 189.7 186Z" fill="#fff" stroke="#111111" stroke-width="1.6" stroke-linejoin="round" stroke-linecap="round"/>
<path d="M199.3 189.5C196.7 190.2 195.5 194.3 194.1 196.4C192.6 198.6 190.9 199.9 190.6 202.5C190.3 205.2 191.7 208.7 192.3 212.1C193 215.5 192.3 221.6 194.4 223C196.5 224.4 203.4 222.3 204.9 220.5C206.5 218.7 204 214.7 203.7 212.1C203.3 209.6 202.2 207.5 202.8 205.2C203.4 202.8 206 200.3 207.2 198.2C208.4 196 211.5 193.7 210.1 192.3C208.8 190.8 202 188.8 199.3 189.5Z" fill="#fff" stroke="#111111" stroke-width="1.6" stroke-linejoin="round" stroke-linecap="round"/>
<path d="M169.3 223.5C169.3 222.5 170.9 220.8 172.3 220C173.6 219.2 175.6 218.9 177.5 218.8C179.4 218.6 182.6 218.5 183.6 219.1C184.6 219.7 184.6 221.2 183.6 222.3C182.6 223.3 179.4 224.6 177.5 225.2C175.6 225.9 173.6 226.4 172.3 226.1C170.9 225.8 169.3 224.5 169.3 223.5Z" fill="#fff" stroke="#111111" stroke-width="1.6" stroke-linejoin="round" stroke-linecap="round"/>
<path d="M188.5 230.5C188.5 229.4 190.8 227.3 192.3 226.1C193.9 224.9 195.5 224.3 197.6 223.5C199.7 222.7 203.6 220.9 204.9 221.2C206.2 221.5 206.4 223.8 205.4 225.2C204.5 226.6 201.5 228.4 199.3 229.6C197.1 230.8 194.1 232.1 192.3 232.2C190.5 232.4 188.5 231.5 188.5 230.5Z" fill="#fff" stroke="#111111" stroke-width="1.6" stroke-linejoin="round" stroke-linecap="round"/>
<path d="M209.2 172.6C209.8 171.7 211.6 175.3 212.5 177.5C213.3 179.7 214.2 182.1 214.3 185.7C214.4 189.3 214 196.7 212.9 198.9C211.8 201 208.1 199.9 207.6 198.9C207.1 197.8 209.6 195 209.9 192.3C210.1 189.5 209.3 185.7 209.2 182.4C209.1 179.1 208.7 173.4 209.2 172.6Z" fill="#b9c6d8"/>
<path d="M193.6 155.5C192 155.3 187.9 158.1 186.2 159.4C184.5 160.8 183.4 162 183.3 163.5C183.2 165 184.8 167 185.6 168.5C186.3 170 187.1 172.4 187.9 172.6C188.6 172.7 189.8 168.5 190.3 169.3C190.9 170.1 191.6 174.8 191.1 177.5C190.7 180.2 186.3 183.7 187.4 185.7C188.5 187.8 194.4 188.7 197.7 189.8C201.1 190.9 205.5 192.7 207.6 192.3C209.6 191.9 209.5 190.4 210.2 187.4C210.9 184.3 211.8 177.5 211.7 174.2C211.5 170.9 209.1 167.4 209.2 167.6C209.3 167.9 211.4 175 212.5 175.9C213.6 176.7 214.4 174.1 215.8 172.6C217.1 171.1 220.4 168.5 220.7 166.8C221 165.2 218.9 164.8 217.4 162.7C215.9 160.7 214 156.1 211.7 154.5C209.3 152.9 206.1 152.3 203.5 153.3C200.9 154.2 197.7 159.9 196.1 160.2C194.4 160.6 195.2 155.6 193.6 155.5Z" fill="#fff" stroke="#111111" stroke-width="1.6" stroke-linejoin="round" stroke-linecap="round"/>
<path d="M193.6 156.1L196.1 160.2L203 153.3M190.3 169.3L191.1 162.7M209.2 167.6L208.4 164.4" fill="none" stroke="#111111" stroke-width="1.3" stroke-linejoin="round" stroke-linecap="round"/>
<path d="M201 165.8L203 165.2L204.3 162.9L205.3 165L207.6 164.8L207.6 168.5L201 169.3Z" fill="#fff" stroke="#111111" stroke-width="1.2" stroke-linejoin="round" stroke-linecap="round"/>
<path d="M220.7 166.8C221.1 168.6 222.5 173.7 223.2 177.5C223.9 181.3 224.5 186.7 224.8 189.8C225.1 193 225.2 195.1 225 196.4C224.8 197.7 224.1 198 223.6 197.6C223.1 197.2 222.6 194.5 221.9 193.9C221.3 193.3 220.5 195.8 219.9 193.9C219.3 192 218.9 186 218.2 182.4C217.6 178.9 216.2 174.2 215.8 172.6" fill="#fff" stroke="#111111" stroke-width="1.6" stroke-linejoin="round" stroke-linecap="round"/>
<path d="M183.3 163.5C182.7 162.7 180.8 160.4 179.6 158.6C178.5 156.8 177.5 154.6 176.5 152.9C175.6 151.1 174.8 148.8 174.1 147.9C173.3 147 172.3 147.1 171.8 147.5C171.4 147.9 171.4 149.5 171.4 150.4C171.4 151.3 172.5 152.2 171.8 152.9C171.2 153.5 168.9 154.4 167.3 154.5C165.7 154.6 163.3 153.3 162.4 153.7C161.5 154.1 161.4 156 162 157C162.5 157.9 164.1 158.9 165.7 159.4C167.3 160 170 160.1 171.4 160.2C172.9 160.4 173.5 159.3 174.3 160.2C175.2 161.2 175.5 163.5 176.5 166C177.5 168.5 178.6 173.9 180.5 175C182.4 176.1 186.6 173 187.9 172.6" fill="#fff" stroke="#111111" stroke-width="1.6" stroke-linejoin="round" stroke-linecap="round"/>
<path d="M196.1 151.9L195.7 155.5L199.4 158.6L203.5 153L202 148.3" fill="#fff" stroke="#111111" stroke-width="1.3" stroke-linejoin="round" stroke-linecap="round"/>
<path d="M187.9 133.6C188.6 132.5 190.3 130.9 192 130.3C193.6 129.7 196.2 129.7 197.7 129.9C199.2 130 199.9 129.2 201 131.1C202.1 133 203.9 139.2 204.3 141.4C204.6 143.5 204 142.3 203 143.8C202.1 145.3 200 149 198.5 150.4C197.1 151.8 195.9 152.2 194.4 152.4C192.9 152.6 190.7 152.9 189.5 151.6C188.3 150.3 187.4 147.2 187 144.6C186.7 142.1 187.3 138.3 187.4 136.4C187.6 134.6 187.1 134.6 187.9 133.6Z" fill="#fff" stroke="#111111" stroke-width="1.6" stroke-linejoin="round" stroke-linecap="round"/>
<path d="M192.4 131.1C192.8 130.5 196.3 129.9 197.7 129.9C199.1 129.9 200.2 131.2 201 131.1C201.7 131 201.5 129.8 202.2 129.4C202.9 129.1 204.1 128.7 205.1 128.9C206.1 129.1 207.3 129.9 208 130.7C208.6 131.5 209 132.4 209 133.6C209 134.7 208.6 136.5 208 137.7C207.3 138.8 205.9 139.8 205.1 140.4C204.3 140.9 204 141.5 203 140.9C202.1 140.4 200.7 138.5 199.4 137.2C198.1 135.9 196.4 134.2 195.2 133.1C194.1 132.1 192 131.6 192.4 131.1Z" fill="#b9c6d8" stroke="#111111" stroke-width="1.3" stroke-linejoin="round" stroke-linecap="round"/>
<path d="M187.4 145.5L194.4 144.6L201 141.8L203.5 140.5M194.4 144.6L195.2 151M193.2 137.7L195.2 137.1" fill="none" stroke="#111111" stroke-width="1.2" stroke-linejoin="round" stroke-linecap="round"/>
<circle cx="194.3" cy="140.2" r="0.9" fill="#111111"/>
<path d="M246.4 175.5C244.3 177.1 242.1 179.9 240.3 184.2C238.5 188.6 237.2 197.6 235.6 201.7C234 205.7 231.4 205.2 230.7 208.7C230.1 212.1 231.3 218.5 231.6 222.6C231.9 226.7 231.1 231.3 232.5 233.4C233.8 235.5 238.4 236.7 239.8 235.2C241.3 233.7 239.2 226.1 241.2 224.4C243.2 222.6 248.2 225 251.7 224.7C255.2 224.4 260.7 227 262.1 222.6C263.6 218.2 257.5 202.7 260.4 198.2C263.3 193.7 277 197.3 279.6 195.6C282.2 193.8 278.1 191 276.1 187.7C274.1 184.4 270 178.2 267.4 175.8C264.8 173.5 262.7 173.9 260.4 173.8C258.1 173.6 255.7 174.5 253.4 174.8C251.1 175.1 248.6 173.9 246.4 175.5Z" fill="none" stroke="#111111" stroke-width="1.6" stroke-linejoin="round" stroke-linecap="round"/>
<path d="M260.4 198.2C263.6 197.7 276.4 193.2 279.6 195.6C282.8 197.9 281.9 207.9 279.6 212.1C277.3 216.4 269.2 219.4 266 220.9C262.8 222.3 261.3 220.9 260.4 220.9" fill="none" stroke="#111111" stroke-width="1.6" stroke-linejoin="round" stroke-linecap="round"/>
<path d="M251.7 196.4C251.1 197.9 249.3 202.8 248.2 205.2C247 207.5 245.3 209.8 244.7 210.7" fill="none" stroke="#111111" stroke-width="1.2" stroke-linejoin="round" stroke-linecap="round"/>
<path d="M237.7 217.4C238.9 218.1 242.4 220.6 244.7 221.7C247 222.9 250.5 223.9 251.7 224.4" fill="none" stroke="#111111" stroke-width="1.2" stroke-linejoin="round" stroke-linecap="round"/>
<path d="M225.2 235.2C225.6 234.4 227.3 233.4 229 233.1C230.6 232.8 233.1 232.9 235.1 233.4C237.1 234 240.3 235.3 241.2 236.2C242.1 237.2 241.8 238.6 240.3 239.2C238.9 239.8 234.8 239.9 232.5 239.7C230.2 239.5 227.6 238.7 226.4 238C225.2 237.2 224.7 236 225.2 235.2Z" fill="#fff" stroke="#111111" stroke-width="1.6" stroke-linejoin="round" stroke-linecap="round"/>
<circle cx="257.3" cy="164.2" r="10.5" fill="#fff" stroke="#111111" stroke-width="1.2"/>
<g clip-path="url(#k1)">
<path d="M253.4 154.2C255.2 152.5 263.5 154.2 266 156.3C268.5 158.4 268.5 163.9 268.2 166.8C268 169.7 266.4 172.4 264.8 173.8C263.2 175.2 260.2 176.3 258.7 175.2C257.1 174 256.4 170.3 255.5 166.8C254.6 163.3 251.7 156 253.4 154.2Z" fill="#b9c6d8" opacity="0.9"/>
</g>
<circle cx="257.3" cy="164.2" r="10.5" fill="none" stroke="#111111" stroke-width="1.2"/>
<path d="M253.8 161.9L253.4 167.6M256.6 161.2L256.9 168.5M259.4 161.5L259 168.9M261.8 162.2L262.1 168.5M264.2 163.3L264.2 168.2M251.7 165L254.3 166.8" fill="none" stroke="#111111" stroke-width="1.2" stroke-linejoin="round" stroke-linecap="round"/>
<path d="M282.3 200A70 70 0 1 1 284.8 190.7L346.1 204.6Z" fill="none" stroke="#e75d5d" stroke-width="2.2" stroke-linejoin="round" stroke-linecap="round"/>
</g>
<g id="c2">
<path d="M448.2 249.5A46.3 46.3 0 1 1 453 253.8L407.4 276.1Z" fill="#b9c6d8"/>
<clipPath id="k2"><circle cx="480.9" cy="216.8" r="46.3"/></clipPath>
<g clip-path="url(#k2)">
<path d="M462.4 218.2C461 220.9 462.1 227.6 462.1 235.4C462.1 243.2 455.2 260.1 462.4 265C469.6 269.9 498.1 267.7 505.1 265C512.1 262.2 505.4 256.1 504.3 248.6C503.2 241 501.2 225.3 498.6 219.8C496 214.3 493.4 215.8 488.7 215.7C484 215.6 475 218.6 470.6 219C466.3 219.4 463.8 215.4 462.4 218.2Z" fill="#e88186"/>
</g>
<path d="M448.2 249.5A46.3 46.3 0 1 1 453 253.8L407.4 276.1Z" fill="none" stroke="#e75d5d" stroke-width="2.2" stroke-linejoin="round" stroke-linecap="round"/>
<path d="M462.1 217.7L437.5 246.6L441.4 250.5L462.7 235.4Z" fill="#e88186" stroke="#111111" stroke-width="1.5" stroke-linejoin="round" stroke-linecap="round"/>
<path d="M494 211.6L532.4 224.9L530.7 233.1L499.5 227.2Z" fill="#e88186" stroke="#111111" stroke-width="1.5" stroke-linejoin="round" stroke-linecap="round"/>
<g clip-path="url(#k2)">
<path d="M462.4 218.2C461 220.9 462.1 227.6 462.1 235.4C462.1 243.2 455.2 260.1 462.4 265C469.6 269.9 498.1 267.7 505.1 265C512.1 262.2 505.4 256.1 504.3 248.6C503.2 241 501.2 225.3 498.6 219.8C496 214.3 493.4 215.8 488.7 215.7C484 215.6 475 218.6 470.6 219C466.3 219.4 463.8 215.4 462.4 218.2Z" fill="#e88186"/>
<path d="M462.4 227.2L463.2 255.1M498.6 219.8L505.1 251.8" fill="none" stroke="#111111" stroke-width="1.3" stroke-linejoin="round" stroke-linecap="round"/>
</g>
<path d="M474.7 185.5C477.3 185.3 480.1 185.6 482.1 186.8C484.1 188 485.9 190.6 486.7 192.7C487.6 194.8 487.7 197.2 487.4 199.3C487 201.3 486.3 203.6 484.6 205C482.9 206.4 479.8 207.5 477.2 207.8C474.6 208.1 471.2 207.8 469 206.7C466.7 205.5 464.8 203 463.7 200.9C462.7 198.9 462.3 196.5 462.7 194.3C463.2 192.2 464.5 189.6 466.5 188.1C468.5 186.6 472.1 185.7 474.7 185.5Z" fill="#fff" stroke="#111111" stroke-width="1.3" stroke-linejoin="round" stroke-linecap="round"/>
<path d="M469 197.3C469.4 197.5 470.6 198.6 471.5 198.6C472.3 198.6 473.5 197.5 473.9 197.3M478.5 194.3C478.9 194.5 480.1 195.4 480.8 195.3C481.6 195.2 482.6 194 483 193.7M479.2 196.8C479.3 197.3 480.2 199.3 480.2 199.9C480.1 200.6 479.1 200.5 478.8 200.6M475.6 202.9C476 203.1 477.1 204 478 203.9C478.9 203.8 480.3 202.5 480.8 202.2M463.7 181.7L465.7 183.7M484.6 180.1L483.8 183.7M498.6 189.1L495.3 191.9M449.8 197.6L453.4 198.3" fill="none" stroke="#111111" stroke-width="1" stroke-linejoin="round" stroke-linecap="round"/>
<path d="M461.6 205.8C461.2 207.1 460.5 210.5 460.8 212.4C461 214.3 461.6 216 463.2 217.3C464.9 218.7 467.5 220.1 470.6 220.6C473.8 221.2 479 221.5 482.1 220.6C485.3 219.8 487.6 217.3 489.5 215.7C491.4 214.1 492.8 212.4 493.6 210.8C494.4 209.1 494.7 207.8 494.4 205.8C494.2 203.9 492.9 200.1 492 199.3C491 198.5 489.5 199.8 488.7 200.9C487.9 202 488.7 204.5 487.1 205.8C485.4 207.2 481.9 208.9 478.8 209.1C475.8 209.4 471.6 208.2 469 207.5C466.4 206.8 464.5 205.3 463.2 205C462 204.8 462 204.6 461.6 205.8Z" fill="#fff" stroke="#111111" stroke-width="1.3" stroke-linejoin="round" stroke-linecap="round"/>
<path d="M470.6 220.6L471 235.4L473.1 240L486.7 237.4L485.4 220.6Z" fill="#fff" stroke="#111111" stroke-width="1.3" stroke-linejoin="round" stroke-linecap="round"/>
<path d="M473.1 231.3L473.3 239.5M475.6 231.3L475.9 239.5M478 230.8L478.5 238.7M480.5 230.8L481 238.4M483 230.5L483.4 237.9M485.1 230.2L485.4 237.4" fill="none" stroke="#111111" stroke-width="1.1" stroke-linejoin="round" stroke-linecap="round"/>
<path d="M531.4 225.6C532.9 224.1 537.4 223.9 539.6 224.4C541.8 225 543 227.6 544.5 228.8C546.1 230.1 548.2 231 548.7 232.1C549.1 233.3 548.2 235 547 235.7C545.8 236.5 543 236.8 541.3 236.7C539.5 236.7 538.1 236 536.3 235.4C534.6 234.8 531.4 234.8 530.6 233.1C529.8 231.5 529.9 227 531.4 225.6Z" fill="#fff" stroke="#111111" stroke-width="1.5" stroke-linejoin="round" stroke-linecap="round"/>
<path d="M541.6 232.1C542.3 231.7 545.6 231.4 546.2 231.8C546.8 232.2 546.1 234.1 545.4 234.6C544.7 235.1 542.7 235 542.1 234.6C541.5 234.2 540.9 232.6 541.6 232.1Z" fill="none" stroke="#111111" stroke-width="0.9" stroke-linejoin="round" stroke-linecap="round"/>
<path d="M438.6 246.9C436.9 246.4 433 246.7 431.2 247.7C429.4 248.8 428.4 251.5 427.9 253.2C427.4 254.8 427.7 256.6 428.3 257.6C428.8 258.6 429.6 259.6 431.2 259.2C432.8 258.8 436.1 256.6 437.8 255.1C439.5 253.7 441.3 251.9 441.4 250.5C441.5 249.2 440.3 247.4 438.6 246.9Z" fill="#fff" stroke="#111111" stroke-width="1.5" stroke-linejoin="round" stroke-linecap="round"/>
<path d="M429.6 251.8L434.5 250.2M429.9 255.1L435.3 252.7M432 243.3L434.5 242.3" fill="none" stroke="#111111" stroke-width="0.9" stroke-linejoin="round" stroke-linecap="round"/>
</g>
<g id="c3">
<path d="M207.2 369.2A52.7 52.7 0 1 1 203.4 358.3L285 319Z" fill="#fff"/>
<clipPath id="k3"><circle cx="155.8" cy="381" r="52.7"/></clipPath>
<g clip-path="url(#k3)">
<path d="M108.6 396.6L196.5 349L201.4 312.9L86.4 312.9L86.4 398.3Z" fill="#b9c6d8"/>
</g>
<path d="M149.7 332.6L149.7 374.4M169.4 334.2L169.4 385.1M176.8 337.5L176.8 376.9M181.7 340L181.7 376.9" fill="none" stroke="#111111" stroke-width="1.1" stroke-linejoin="round" stroke-linecap="round"/>
<path d="M129.1 378.2C126.1 377.2 125.8 381.5 124.2 383.5C122.6 385.5 120.4 387.6 119.3 390.1C118.1 392.5 117 395 117.3 398.3C117.6 401.6 119.2 406.2 120.9 409.8C122.6 413.3 125.2 417.3 127.5 419.6C129.7 422 131.7 423.1 134.4 423.9C137.1 424.7 140.4 425 143.9 424.5C147.4 424.1 152.2 423 155.4 421.3C158.6 419.5 160.2 415.5 163 413.9C165.7 412.3 169.4 412.4 171.8 411.7C174.3 411.1 175.4 410.4 177.6 409.8C179.8 409.2 183.2 409.8 185 408.1C186.8 406.5 187.9 402.6 188.3 399.9C188.7 397.2 187.7 394.7 187.4 391.7C187.2 388.7 188.8 383.2 186.6 381.8C184.4 380.5 177.3 381.3 174.3 383.5C171.3 385.7 169.6 391.8 168.6 395C167.5 398.1 168.7 401.1 167.9 402.4C167.1 403.6 165 403.6 163.6 402.4C162.2 401.1 160.3 397.6 159.5 395C158.7 392.4 159.7 389.3 158.7 386.8C157.7 384.2 155.8 381 153.8 379.5C151.7 378.1 148.3 376.5 146.4 378.2C144.5 379.9 145.1 389.7 142.3 389.7C139.4 389.7 132.1 379.3 129.1 378.2Z" fill="#fff" stroke="#111111" stroke-width="1.5" stroke-linejoin="round" stroke-linecap="round"/>
<path d="M122.6 350.6C123.3 349.3 124.5 347.5 126.7 346.5C128.9 345.6 133.2 344.5 135.7 344.9C138.2 345.3 140.2 347.6 141.5 349C142.7 350.4 142.4 351.2 143.1 353.1C143.8 355 145 357.9 145.6 360.5C146.1 363.1 146.9 366.5 146.4 368.7C145.8 370.9 144.1 372.6 142.3 373.6C140.5 374.6 137.6 374.8 135.7 374.6C133.8 374.4 132.1 372.6 130.8 372.3C129.4 372 128.6 373.3 127.5 372.8C126.4 372.3 125.2 371.3 124.2 369.5C123.2 367.7 122.1 364.6 121.7 362.1C121.4 359.7 122.1 356.7 122.2 354.7C122.4 352.8 121.8 352 122.6 350.6Z" fill="#fff" stroke="#111111" stroke-width="1.5" stroke-linejoin="round" stroke-linecap="round"/>
<path d="M124.5 352.3C124.5 353.1 124.1 355.4 124.2 357.2C124.3 359 125 362 125.2 363M132.1 358.5L134.4 357.2M138.7 355.9L141 355.2M133.2 360.8L134.9 362.1M140.3 359.2L141.6 360.2M140.6 358.8C141 359.7 142.5 363.1 142.6 364.1C142.7 365.1 141.2 364.9 141 365.1M135.7 367.9C136.3 368 137.9 368.8 139 368.7C140.1 368.6 141.7 367.3 142.3 367.1M129.1 373.6L129.5 378.2M142.3 374.4L144.2 378.6M131.6 380.2C133.4 381.3 140.1 386.8 142.3 386.8C144.5 386.8 144.3 381.3 144.7 380.2M150.5 378.9C151.3 381 153.9 387.4 155.4 391.7C156.9 396 158.3 401.2 159.5 404.8C160.8 408.4 162.4 412 163 413.4M117.6 393.7C119 393.4 122.8 390.7 125.8 392C128.9 393.3 133 398.6 135.7 401.6C138.4 404.5 138.4 408.9 142.3 409.8C146.1 410.6 154.9 407.8 158.7 406.5C162.5 405.2 164.2 402.6 165.3 401.9M141.6 409.8L139 418M157.1 381.8L160 389.7" fill="none" stroke="#111111" stroke-width="1.1" stroke-linejoin="round" stroke-linecap="round"/>
<path d="M174.3 383.5C177.3 381.3 184.4 380.5 186.6 381.8C188.8 383.2 187.2 388.7 187.4 391.7C187.7 394.7 188.7 397.2 188.3 399.9C187.9 402.6 186.9 406.5 185 408.1C183.1 409.8 179.6 410.7 176.8 409.8C173.9 408.8 169.3 404.8 167.9 402.4C166.5 399.9 167.5 398.1 168.6 395C169.6 391.8 171.3 385.7 174.3 383.5Z" fill="#fff" stroke="#111111" stroke-width="1.5" stroke-linejoin="round" stroke-linecap="round"/>
<path d="M175.1 385.1L170.5 399.9M177.1 385.9L172.2 400.7M175.1 383.8L185 385.1L187 382.2" fill="none" stroke="#111111" stroke-width="0.9" stroke-linejoin="round" stroke-linecap="round"/>
<path d="M179.7 395.3L183.3 394.7L183.7 397L186.3 396.6L186.6 399.9L184.2 400.4L184.5 403.2L181 403.7L180.7 401.2L178.1 401.6L177.8 398.3L180.1 397.8Z" fill="#fff" stroke="#111111" stroke-width="1.1" stroke-linejoin="round" stroke-linecap="round"/>
<path d="M163 401.9C163.6 402.2 164.9 403 166.9 403.5C168.9 404 173.2 404.3 175.1 404.8C177 405.4 178.1 405.9 178.4 406.8C178.7 407.7 178.1 409.3 176.8 410.1C175.4 410.9 172.1 411.2 170.2 411.4C168.3 411.6 166.1 411.4 165.3 411.4" fill="#fff" stroke="#111111" stroke-width="1" stroke-linejoin="round" stroke-linecap="round"/>
<path d="M207.2 369.2A52.7 52.7 0 1 1 203.4 358.3L285 319Z" fill="none" stroke="#e75d5d" stroke-width="2.2" stroke-linejoin="round" stroke-linecap="round"/>
</g>
<g id="icons">
<path d="M346 203.4L345.5 197L359.4 196.5L358.9 207.6L365 207.1L365.4 210.4M346.9 200.7L357.6 200.2M346.9 205.7L357.1 205.3M349.2 200.7L349.2 205.7M353.9 200.5L353.9 205.5M344.6 207.1L345.1 209.9" fill="none" stroke="#111111" stroke-width="1.3" stroke-linejoin="round" stroke-linecap="round"/>
<path d="M415.3 215.5L424.6 215.5L424.6 222.8L415.3 222.8Z" fill="#b9c6d8" stroke="#111111" stroke-width="1.2" stroke-linejoin="round" stroke-linecap="round"/>
<path d="M416.5 216.6L423.4 216.6L423.4 221.7L416.5 221.7Z" fill="none" stroke="#111111" stroke-width="0.7" stroke-linejoin="round" stroke-linecap="round"/>
<path d="M413.5 235.3L413 223.8L426.4 222.8L426.4 231.2L430 231.2L430.4 233.9" fill="none" stroke="#111111" stroke-width="1.3" stroke-linejoin="round" stroke-linecap="round"/>
<text x="417.3" y="221.2" style="font-size:5px;font-weight:700;fill:#111" textLength="6" lengthAdjust="spacingAndGlyphs">GP</text>
<circle cx="303.4" cy="233.8" r="3.1" fill="#e88186" stroke="#e75d5d" stroke-width="0.9"/>
<path d="M289.2 302.9L297.7 302.7L297.7 310.4L302.7 310.6L302.8 318.5L310.4 318.8L310.6 327.3L285 327.3L284 318.3L284 310.6L289.1 310.4Z" fill="#f48b8d"/>
<path d="M289.2 310.2L289.1 303.1L293.3 302.5L297.7 302.8L297.8 310.2M284 310.6L302.7 310.6M285 315.4L302.7 315.4M287.5 320.2L302.7 320.2M285.4 324.4L310.6 324.4M284 310.6L284.4 317.7M288.5 310.6L288.4 327.3M293.3 310.6L293.4 327.3M298.3 310.6L298.4 327.3M302.7 310.6L302.5 327.3M302.7 319.2L306.7 318.3L310.4 319.2L310.8 326.7M306.2 320L306.3 327.3M285 322.1L285.1 326.9M303.1 322.5L310.4 322.7" fill="none" stroke="#111111" stroke-width="1" stroke-linejoin="round" stroke-linecap="round"/>
<path d="M292.9 305.6C293.2 305.6 293.4 306.4 293.8 306.7C294.1 306.9 294.8 307 294.8 307.2C294.8 307.3 294 307.4 293.8 307.7C293.5 308 293.3 308.8 293 308.8C292.7 308.8 292.5 308 292.2 307.7C291.9 307.4 291.2 307.3 291.2 307.2C291.2 307 291.9 306.9 292.2 306.7C292.5 306.4 292.7 305.6 292.9 305.6Z" fill="#111111"/>
<path d="M368.3 337.5L377.8 337.5L377.8 345.8L381 345.8L381.7 360.6L365.4 360.8L365.4 347.5L368.3 346.9Z" fill="#ef8a8c"/>
<path d="M368.3 338.3L377.8 338.3L377.8 346.7L368.3 346.9Z" fill="none" stroke="#111111" stroke-width="1.3" stroke-linejoin="round" stroke-linecap="round"/>
<path d="M365.4 360.4L365.4 347.5L368.3 347M377.8 345.8L380.8 345.6L381.7 349.6M381.7 355L382.1 359.6" fill="none" stroke="#111111" stroke-width="1.3" stroke-linejoin="round" stroke-linecap="round"/>
<text x="369.7" y="345.1" style="font-size:6px;font-weight:700;fill:#111" textLength="7.2" lengthAdjust="spacingAndGlyphs">GP</text>
</g>
<g id="c4">
<path d="M441.8 343.2A44.5 44.5 0 1 1 442.5 351.6L376.2 352.2Z" fill="#b9c6d8" stroke="#e75d5d" stroke-width="2.2" stroke-linejoin="round" stroke-linecap="round"/>
<path d="M458.7 323L497.6 311.2L510.7 365.4L473 376.9Z" fill="#fff" stroke="#111111" stroke-width="2.3" stroke-linejoin="round" stroke-linecap="round"/>
<path d="M465.6 329.3C466.7 328.9 469.9 327.3 472.1 326.8C474.3 326.3 476.5 326.7 478.7 326.3C480.9 325.9 484.2 324.7 485.3 324.3M467.2 335C468.3 334.7 471.6 333.4 473.8 332.9C476 332.4 478.2 332.7 480.3 332.2C482.5 331.8 485.8 330.5 486.9 330.1M468.8 341.1C469.7 340.6 471.9 338.9 473.8 338.3C475.7 337.8 477.9 338.4 480.3 337.8C482.8 337.3 487.2 335.5 488.6 335M471.3 348.2C472.8 347.8 477.2 346.9 480.3 346C483.5 345.2 488.6 343.7 490.2 343.2M472.1 353.1C473.8 352.6 478.8 351.3 482 350.3C485.1 349.3 489.5 347.8 491 347.3M475.4 361.3C476.8 361 480.8 360 483.6 359.2C486.5 358.4 491.2 356.8 492.7 356.4M476.2 366.2C477.7 365.8 482.3 364.7 485.3 363.8C488.3 362.8 492.8 361 494.3 360.5" fill="none" stroke="#111111" stroke-width="1.7" stroke-linejoin="round" stroke-linecap="round"/>
<path d="M489.4 324.3L495.9 322.7L497.6 329.3L491 331.2Z" fill="none" stroke="#111111" stroke-width="1.1" stroke-linejoin="round" stroke-linecap="round"/>
<path d="M493.5 340.8L500.1 339.1L501.7 345.7L495.1 347.7Z" fill="none" stroke="#111111" stroke-width="1.1" stroke-linejoin="round" stroke-linecap="round"/>
<path d="M496.8 354.7L503.3 353.1L505 360.2L498.4 361.8Z" fill="none" stroke="#111111" stroke-width="1.1" stroke-linejoin="round" stroke-linecap="round"/>
<path d="M491 326.8L493.2 328.9L495.9 320.7M495.1 342.7L497.1 344.9L500.4 336.7M498.7 357.2L500.7 359.2L505 352.3" fill="none" stroke="#111111" stroke-width="1.4" stroke-linejoin="round" stroke-linecap="round"/>
</g>
<g id="birds">
<path d="M38.6 119.4L41.3 122.1L37.4 127.4L34.5 124.7Z" fill="#fff" stroke="#111111" stroke-width="1.1" stroke-linejoin="round" stroke-linecap="round"/>
<path d="M28.2 109.8C28.6 109.6 29.1 109.9 29.4 110.4C29.7 110.8 30.6 113.2 31.1 113.7C31.5 114.2 33.2 115 33.5 114.8C33.9 114.6 34 112.3 34.3 111.6C34.6 110.9 35.9 108.6 36.3 108.5C36.8 108.4 38.1 110.1 38.3 110.7C38.6 111.3 39.1 113 39 113.6C38.9 114.2 37.8 115.8 37.5 116.3C37.3 116.8 36.8 117.5 36.8 118.1C36.7 118.7 37.6 121.5 37.2 121.8C36.8 122.1 34.1 121 33.6 121.1C33 121.2 32.4 122.4 31.9 122.7C31.3 123 29.6 123.7 28.7 123.5C27.8 123.4 24.3 121.9 24 121.6C23.7 121.2 25.5 120.4 26 120.2C26.5 119.9 28.2 119.6 28.6 119.4C29.1 119.1 29.7 118.5 29.7 118C29.7 117.6 29 115.7 28.6 115.1C28.2 114.5 26.1 113.1 26.1 112.6C26 112 27.8 110.1 28.2 109.8Z" fill="#fff" stroke="#111111" stroke-width="1.1" stroke-linejoin="round" stroke-linecap="round"/>
<path d="M77.7 125L80.8 127.1L77.8 133L74.5 130.9Z" fill="#fff" stroke="#111111" stroke-width="1.1" stroke-linejoin="round" stroke-linecap="round"/>
<path d="M65.7 117.3C66.1 117 66.6 117.3 67 117.6C67.4 118 68.7 120.2 69.2 120.6C69.7 121 71.5 121.6 71.8 121.3C72.1 121 71.8 118.8 72 118C72.2 117.3 73.1 114.7 73.5 114.6C73.9 114.4 75.5 115.9 75.9 116.4C76.2 116.9 77 118.5 77 119.2C77 119.8 76.2 121.5 76 122.1C75.9 122.6 75.5 123.4 75.6 124C75.7 124.6 77 127.2 76.7 127.5C76.4 127.9 73.5 127.3 73 127.4C72.4 127.6 72.1 129 71.6 129.3C71.1 129.7 69.5 130.7 68.6 130.7C67.7 130.7 64 129.9 63.6 129.6C63.3 129.3 64.9 128.2 65.3 127.9C65.8 127.6 67.5 126.9 67.8 126.6C68.2 126.3 68.7 125.6 68.6 125.1C68.5 124.7 67.6 123 67.1 122.4C66.6 121.9 64.3 120.9 64.1 120.4C64 119.8 65.4 117.6 65.7 117.3Z" fill="#fff" stroke="#111111" stroke-width="1.1" stroke-linejoin="round" stroke-linecap="round"/>
<path d="M41.6 150.9L44.5 153.6L40.6 159.1L37.5 156.5Z" fill="#fff" stroke="#111111" stroke-width="1.1" stroke-linejoin="round" stroke-linecap="round"/>
<path d="M30.5 141.4C30.9 141.1 31.4 141.5 31.8 141.9C32.1 142.3 33.1 144.7 33.6 145.2C34.1 145.7 35.8 146.5 36.2 146.3C36.5 146 36.5 143.8 36.8 143C37.1 142.3 38.4 139.8 38.8 139.7C39.3 139.5 40.7 141.3 41 141.9C41.3 142.5 41.8 144.2 41.8 144.9C41.7 145.5 40.6 147.2 40.4 147.7C40.1 148.2 39.6 149 39.6 149.6C39.6 150.2 40.6 153 40.2 153.4C39.9 153.7 37 152.6 36.4 152.8C35.8 152.9 35.3 154.2 34.8 154.5C34.2 154.8 32.4 155.6 31.5 155.5C30.6 155.4 26.9 154 26.6 153.6C26.3 153.2 28.1 152.4 28.6 152.1C29.1 151.8 30.9 151.4 31.3 151.2C31.7 150.9 32.3 150.3 32.3 149.8C32.3 149.3 31.6 147.4 31.1 146.8C30.7 146.2 28.5 144.9 28.4 144.3C28.4 143.7 30.1 141.6 30.5 141.4Z" fill="#fff" stroke="#111111" stroke-width="1.1" stroke-linejoin="round" stroke-linecap="round"/>
<path d="M71.6 162.4L75.3 164.4L72.7 171.4L68.8 169.4Z" fill="#fff" stroke="#111111" stroke-width="1.1" stroke-linejoin="round" stroke-linecap="round"/>
<path d="M57.3 155.2C57.7 154.8 58.3 155.1 58.8 155.4C59.3 155.8 61 158.1 61.6 158.5C62.2 158.9 64.3 159.3 64.6 158.9C64.9 158.6 64.3 156.1 64.4 155.3C64.6 154.4 65.2 151.5 65.7 151.2C66.2 151 68.1 152.5 68.6 153C69 153.5 70.1 155.3 70.1 156C70.2 156.7 69.5 158.7 69.4 159.3C69.3 159.9 69 160.9 69.1 161.5C69.3 162.2 71.1 164.9 70.8 165.4C70.5 165.8 67.2 165.4 66.6 165.7C66 166 65.8 167.5 65.3 168C64.8 168.4 63.1 169.7 62.1 169.9C61.1 170 56.9 169.5 56.4 169.2C56 168.9 57.6 167.5 58.1 167.1C58.6 166.7 60.4 165.8 60.8 165.4C61.1 165 61.6 164.1 61.5 163.6C61.3 163.1 60 161.3 59.4 160.8C58.8 160.3 56.1 159.4 55.9 158.8C55.6 158.2 57 155.6 57.3 155.2Z" fill="#fff" stroke="#111111" stroke-width="1.1" stroke-linejoin="round" stroke-linecap="round"/>
<path d="M95.4 194.8L101.3 195.5L101.6 205.8L95.4 205.3Z" fill="#fff" stroke="#111111" stroke-width="1.4" stroke-linejoin="round" stroke-linecap="round"/>
<path d="M73.3 193C73.4 192.7 74.6 192.2 75.4 192.5C76.2 192.7 79.5 194.8 80.5 195C81.6 195.2 84.4 194.6 84.6 194C84.9 193.4 82.9 190.5 82.6 189.4C82.3 188.2 81.6 184 82.1 183.5C82.5 182.9 85.8 183.8 86.7 184.2C87.6 184.7 89.8 186.5 90.3 187.3C90.8 188.2 90.9 191.1 91.1 191.9C91.2 192.8 91.3 194.2 91.8 195C92.4 195.8 96 198.4 95.9 199.1C95.8 199.9 91.4 201 90.8 201.7C90.2 202.4 90.7 204.4 90.3 205.3C89.9 206.1 88.4 208.7 87.2 209.4C86 210.1 80.2 211.6 79.5 211.4C78.8 211.3 80.1 208.7 80.5 207.9C80.9 207.1 82.8 204.9 83.1 204.3C83.4 203.6 83.6 202.3 83.1 201.7C82.6 201.1 80.1 199.5 79 199.1C77.9 198.8 73.8 198.6 73.3 198.4C72.9 198.1 74.6 197.4 74.6 197.1C74.6 196.8 73.2 196 73.2 195.8C73.3 195.5 74.8 195.1 74.8 194.8C74.8 194.5 73.3 193.2 73.3 193Z" fill="#fff" stroke="#111111" stroke-width="1.4" stroke-linejoin="round" stroke-linecap="round"/>
<path d="M400 121.8L404 117.5L412.8 122L408.5 127.5Z" fill="#fff" stroke="#111111" stroke-width="1.4" stroke-linejoin="round" stroke-linecap="round"/>
<path d="M383.2 127.8C382.9 126.8 385.8 125 387 124.2C388.2 123.5 389.3 123 390.5 123C391.7 123 392.8 123.5 394 124C395.2 124.5 396.4 125.9 397.5 126C398.6 126.1 399.4 124.9 400.5 124.5C401.6 124.1 403.5 123.3 404 123.8C404.5 124.2 403.6 126 403.5 127C403.4 128 403 129.1 403.5 130C404 130.9 405.7 131.5 406.5 132.5C407.3 133.5 408.2 134.8 408.5 136C408.8 137.2 408.4 138.6 408 140C407.6 141.4 406.7 144 406 144.5C405.3 145 404.7 143.9 404 143C403.3 142.1 402.8 140.2 402 139C401.2 137.8 400.6 136.2 399.5 136C398.4 135.8 396.5 137.2 395.5 138C394.5 138.8 394.1 139.7 393.5 140.5C392.9 141.3 392.6 143 392 143C391.4 143 390.8 141.2 390 140.5C389.2 139.8 387.2 139.7 387.2 139C387.2 138.3 389 137.2 390 136.5C391 135.8 392.5 135.3 393 134.5C393.5 133.7 393.7 132.2 393 131.5C392.3 130.8 390.6 130.6 389 130C387.4 129.4 383.6 128.7 383.2 127.8Z" fill="#fff" stroke="#111111" stroke-width="1.4" stroke-linejoin="round" stroke-linecap="round"/>
<path d="M352.9 185L358.5 180.8L365 188.7L359.4 191.9Z" fill="#fff" stroke="#111111" stroke-width="1.4" stroke-linejoin="round" stroke-linecap="round"/>
<path d="M365.4 166C366.1 166 367.3 169.2 367.7 170.2C368.2 171.1 368.3 174.7 369.6 174.8C370.8 174.9 377.4 170.9 378.8 171.1C380.2 171.2 382.3 175.4 382.1 176.2C381.8 176.9 377.8 177.4 377 178C376.1 178.6 373.6 180.6 374.2 181.7C374.8 182.8 382.2 186.8 382.5 187.7C382.8 188.7 378.1 190.3 377 190.5C375.8 190.7 373.4 189.7 372.3 189.1C371.3 188.5 368.9 185.7 367.7 185.4C366.6 185.2 362.7 187.2 362.2 186.8C361.7 186.4 363.3 183 363.1 181.7C363 180.5 360.9 177 360.8 175.7C360.6 174.4 361.2 171.2 361.7 170.2C362.2 169.1 364.7 166 365.4 166Z" fill="#fff" stroke="#111111" stroke-width="1.4" stroke-linejoin="round" stroke-linecap="round"/>
<path d="M396.8 219.1L401.9 218.2L405.6 227L399.1 228.9Z" fill="#fff" stroke="#111111" stroke-width="1.4" stroke-linejoin="round" stroke-linecap="round"/>
<path d="M379.3 213.1C379.8 212.7 385 213 386.2 213.6C387.4 214.2 389.3 217.4 389.9 218.2C390.5 219 390.9 220.5 391.8 221C392.6 221.5 397 222.2 397.3 222.8C397.6 223.5 394.8 225.4 394.5 226.5C394.2 227.7 394.8 231.8 394.5 233C394.2 234.2 392.6 236.8 391.8 237.6C390.9 238.5 387.1 240.8 386.7 240.4C386.2 240 387.6 235.2 387.6 233.9C387.5 232.7 387.4 229.7 386.2 229.3C385 228.9 377.9 230.4 377 230.2C376 230 378 228.1 377.9 227.5C377.7 226.9 375 225.1 375.6 224.7C376.2 224.3 382.4 224.2 383.4 223.8C384.5 223.4 385 221.7 384.8 221C384.6 220.3 382.2 218.2 381.6 217.3C381 216.4 378.8 213.6 379.3 213.1Z" fill="#fff" stroke="#111111" stroke-width="1.4" stroke-linejoin="round" stroke-linecap="round"/>
<path d="M298.1 275.9L306.7 280.7L303.5 285.6L294.3 281.3Z" fill="#fff" stroke="#111111" stroke-width="1.4" stroke-linejoin="round" stroke-linecap="round"/>
<path d="M300.2 259.2C301 259.2 303.7 262.5 304.6 263.5C305.4 264.4 307.4 268.1 308.3 267.8C309.3 267.4 312 260.7 313.2 260.2C314.3 259.8 318.3 262.6 318.6 263.5C318.8 264.3 315.9 266.9 315.3 267.8C314.8 268.6 312.9 270.2 313.7 271C314.6 271.8 322.2 274 322.9 274.8C323.5 275.6 320.5 278 319.6 278.6C318.7 279.2 315.9 280.3 314.8 280.2C313.7 280.1 310.7 277.6 309.4 277.5C308.1 277.4 304.3 279.6 303.5 279.1C302.6 278.6 302.4 274.4 301.9 273.2C301.3 272 299 269.5 298.6 268.3C298.2 267.2 297.9 264 298.1 262.9C298.3 261.9 299.5 259.1 300.2 259.2Z" fill="#fff" stroke="#111111" stroke-width="1.4" stroke-linejoin="round" stroke-linecap="round"/>
<path d="M348.2 343.8L359 336.2L362.2 342.7L352 350.8Z" fill="#fff" stroke="#111111" stroke-width="1.4" stroke-linejoin="round" stroke-linecap="round"/>
<path d="M337.4 315.7C337.6 314.9 339.9 314 340.7 313.6C341.4 313.2 343.3 311.4 343.9 312C344.5 312.6 345.2 317.6 346 319C346.9 320.4 349.8 325 351.4 324.4C353.1 323.7 359.3 313.5 360.6 313.1C361.9 312.6 362.8 318.4 362.8 320.1C362.7 321.7 361 326.3 360.1 327.6C359.2 328.9 355.2 330.8 354.7 331.9C354.1 333 355.9 336.8 355.2 337.3C354.5 337.8 350.2 336 348.7 336.2C347.2 336.5 343.2 339.2 341.7 339.5C340.2 339.7 336.8 339.2 335.3 338.4C333.8 337.5 328 332.9 328.3 331.9C328.5 331 335.9 330.4 337.4 329.8C338.9 329.2 341.6 327.5 341.7 326.5C341.9 325.6 339.5 322.3 339 321.1C338.6 319.9 337.2 316.6 337.4 315.7Z" fill="#fff" stroke="#111111" stroke-width="1.4" stroke-linejoin="round" stroke-linecap="round"/>
</g>
<g id="bigbird">
<path d="M104.7 109.2C105.7 108.7 108.4 111.3 110.8 112.3C113.2 113.4 116.5 114.4 119 115.4C121.6 116.4 124 117.3 126.2 118.5C128.4 119.7 130.8 121.1 132.4 122.6C133.9 124.1 134.7 126.1 135.5 127.7C136.2 129.4 138.4 131.3 136.7 132.4C135 133.4 129.3 133.4 125.2 133.9C121.1 134.4 115.1 136.1 112.4 135.4C109.6 134.8 109.8 131.9 108.8 129.8C107.7 127.6 106.9 125 106.2 122.6C105.5 120.2 104.9 117.6 104.7 115.4C104.4 113.2 103.6 109.8 104.7 109.2Z" fill="#fff" stroke="#111111" stroke-width="1.4" stroke-linejoin="round" stroke-linecap="round"/>
<path d="M109.8 145.4L87.2 141.6L84.6 145.2L88.2 146.7L85.6 149.3L89.8 150.3L87.2 153.4L91.3 153.9L87.7 156.5L109.8 156.3" fill="#fff" stroke="#111111" stroke-width="1.4" stroke-linejoin="round" stroke-linecap="round"/>
<path d="M115.4 168.8C115.3 169.7 114.7 171.9 114.4 174C114.1 176 113.9 178.9 113.7 181.1C113.4 183.4 112.9 185.2 112.9 187.3C112.8 189.4 112.4 193.6 113.4 194C114.4 194.3 116.9 191 119 189.4C121.2 187.7 123.7 185.7 126.2 184.2C128.8 182.8 132 181.6 134.4 180.6C136.8 179.7 139.2 179.9 140.6 178.6C142 177.2 142.3 174.2 142.9 172.4C143.4 170.6 143.5 168.6 143.7 167.8" fill="#fff" stroke="#111111" stroke-width="1.4" stroke-linejoin="round" stroke-linecap="round"/>
<path d="M139.6 131.8C140.6 131.6 143.9 130.4 145.7 130.3C147.6 130.2 149.3 130.8 150.9 131.3C152.4 131.8 153.8 132.6 155 133.4C156.2 134.2 157.4 134.8 158.1 135.9C158.7 137.1 159.1 138.5 159.1 140.1C159.1 141.6 158.7 143.5 158.1 145.2C157.4 146.9 156.2 148.8 155 150.3C153.8 151.9 152.1 153.1 150.9 154.4C149.7 155.8 149.3 157.8 147.8 158.3C146.2 158.9 142.7 157.7 141.6 157.5" fill="#fff" stroke="#111111" stroke-width="1.4" stroke-linejoin="round" stroke-linecap="round"/>
<path d="M146.6 144C146.1 143.4 147.9 140.9 149 139.5C150.1 138.2 151.9 136.2 153.1 135.9C154.4 135.7 156.1 137.1 156.5 138C156.9 138.9 156.3 140.2 155.5 141.1C154.7 141.9 153.4 142.7 151.9 143.1C150.4 143.6 147 144.6 146.6 144Z" fill="#111111" stroke="#111111" stroke-width="1" stroke-linejoin="round" stroke-linecap="round"/>
<ellipse cx="153.1" cy="139" rx="2.1" ry="2.1" fill="none" stroke="#fff" stroke-width="0.9"/>
<circle cx="127.5" cy="150.8" r="18" fill="#fff" stroke="#111111" stroke-width="1.9"/>
<path d="M130.3 139L126.2 154.4L135 147.8" fill="none" stroke="#111111" stroke-width="1.5" stroke-linejoin="round" stroke-linecap="round"/>
<path d="M153.4 123.1L167.8 118.5L176.5 140.1L163.7 146.7Z" fill="#fff" stroke="#111111" stroke-width="1.4" stroke-linejoin="round" stroke-linecap="round"/>
<path d="M158.3 125L167.3 121.9M159.4 127.6L168.3 124.4M160.5 130.4L169.4 127M161.8 133.2L170.5 129.6M162.9 135.8L171.5 132.1M164 138.6L172.5 134.7M165.3 141.4L173.7 137.3" fill="none" stroke="#111111" stroke-width="1.7" stroke-linejoin="round" stroke-linecap="round"/>
<path d="M156.2 133.9L162.2 133.1L158.9 138.8Z" fill="#fff" stroke="#111111" stroke-width="1.2" stroke-linejoin="round" stroke-linecap="round"/>
</g>
<g id="handtext">
<path id="tp1" d="M151 121C185 103 235 100 262 113C277 120 288 132 296 147" fill="none"/>
<text class="hand" style="font-size:22px;letter-spacing:1.4px"><textPath href="#tp1" textLength="164" lengthAdjust="spacingAndGlyphs">ANTICIPATORY CARE</textPath></text>
<path id="tp2" d="M440.5 186.5C452 174 478 164 514 169" fill="none"/>
<text class="hand" style="font-size:16.5px;"><textPath href="#tp2" textLength="78" lengthAdjust="spacing">BETTER</textPath></text>
<path id="tp3" d="M462 275C480 279 505 277 520 268C527 264 532 258 536 252" fill="none"/>
<text class="hand" style="font-size:16px;"><textPath href="#tp3" textLength="82" lengthAdjust="spacing">HEALTH</textPath></text>
<path id="tp4" d="M446 312.5C458 300 478 294.5 497 296.5C506 297.5 513 299.5 521 302.5" fill="none"/>
<text class="hand" style="font-size:13.5px;"><textPath href="#tp4" textLength="79" lengthAdjust="spacing">IMPROVED</textPath></text>
<path id="tp5" d="M444.5 394.5C460 406 484 411 503 404.5C518 399 531 390 540 379" fill="none"/>
<text class="hand" style="font-size:19.5px;letter-spacing:3.5px"><textPath href="#tp5" textLength="107" lengthAdjust="spacingAndGlyphs">OUTCOMES</textPath></text>
<path id="tp6" d="M88.5 331.5L158 303.5" fill="none"/>
<text class="hand" style="font-size:21.5px;letter-spacing:1.6px"><textPath href="#tp6" textLength="75" lengthAdjust="spacingAndGlyphs">PREVENT</textPath></text>
<path id="tp7" d="M91 364.5C102.5 348.5 120.5 334.5 142.5 327.5C152.5 324.5 160.5 323 168.5 323" fill="none"/>
<text class="hand" style="font-size:21.5px;letter-spacing:1.4px"><textPath href="#tp7" textLength="91" lengthAdjust="spacingAndGlyphs">EMERGENCY</textPath></text>
<path id="tp8" d="M100.9 432.1A75 75 0 0 0 223.8 412.7" fill="none"/>
<text class="hand" style="font-size:23px;letter-spacing:1.6px"><textPath href="#tp8" textLength="146" lengthAdjust="spacingAndGlyphs">READMISSION</textPath></text>
<text x="54.8" y="76.7" style="font-size:8.7px;fill:#111;stroke:#111;stroke-width:0.28px" textLength="44.4" lengthAdjust="spacingAndGlyphs">ELECTRONIC</text>
<text x="54.8" y="84.7" style="font-size:8.7px;fill:#111;stroke:#111;stroke-width:0.28px" textLength="27.2" lengthAdjust="spacingAndGlyphs">HEALTH</text>
<text x="54.8" y="93" style="font-size:8.7px;fill:#111;stroke:#111;stroke-width:0.28px" textLength="32.2" lengthAdjust="spacingAndGlyphs">RECORDS</text>
<text x="420.5" y="473.5" style="font-family:'Liberation Serif',serif;font-style:italic;font-size:21px;fill:#222" textLength="66" lengthAdjust="spacingAndGlyphs">Scriberia</text>
<path d="M487 471.5C491 469 494 473 497 471.5C499 470.5 500 471.5 501 471" fill="none" stroke="#222" stroke-width="0.8" stroke-linejoin="round" stroke-linecap="round"/>
<path d="M504.5 468.9L522.8 459.3" fill="none" stroke="#222" stroke-width="3.1" stroke-linejoin="round" stroke-linecap="round"/>
<path d="M500.6 471.3L504.2 467.6L505.6 470.2Z" fill="#222" stroke="#222" stroke-width="0.5" stroke-linejoin="round" stroke-linecap="round"/>
</g>
</g>
</svg>
</body>
</html>
